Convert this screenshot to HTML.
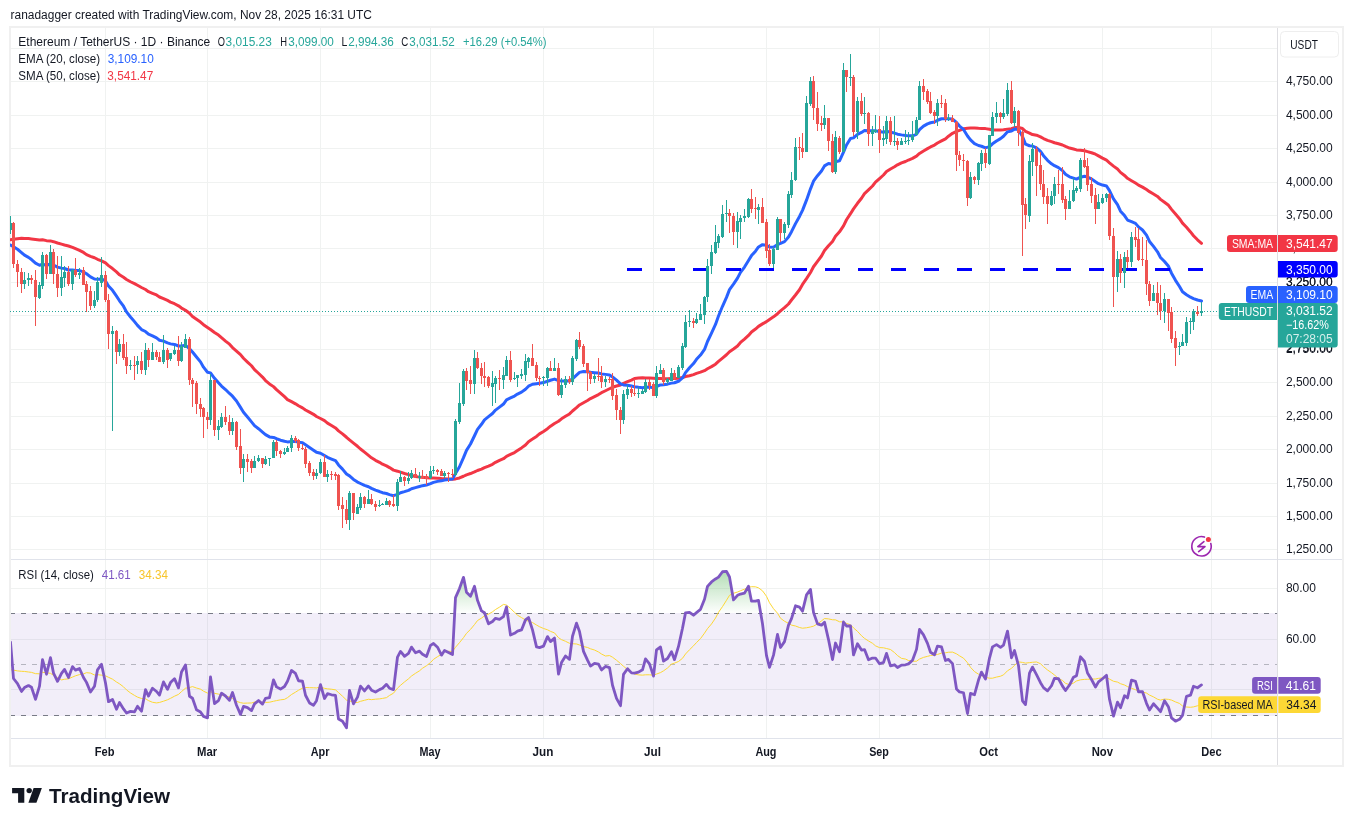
<!DOCTYPE html><html><head><meta charset="utf-8"><title>ETHUSDT</title><style>
html,body{margin:0;padding:0;background:#fff;width:1353px;height:826px;overflow:hidden}
svg{display:block;will-change:transform}svg text{font-family:"Liberation Sans", sans-serif}
</style></head><body>
<svg width="1353" height="826" viewBox="0 0 1353 826" shape-rendering="crispEdges">
<defs>
<clipPath id="cm"><rect x="10" y="28" width="1267" height="531"/></clipPath>
<clipPath id="cr"><rect x="11" y="560" width="1266" height="178"/></clipPath>
<linearGradient id="gob" x1="0" y1="537.7" x2="0" y2="613.9" gradientUnits="userSpaceOnUse"><stop offset="0" stop-color="#4caf50" stop-opacity="0.75"/><stop offset="1" stop-color="#4caf50" stop-opacity="0"/></linearGradient>
<linearGradient id="gos" x1="0" y1="715.5" x2="0" y2="791.7" gradientUnits="userSpaceOnUse"><stop offset="0" stop-color="#ff5252" stop-opacity="0"/><stop offset="1" stop-color="#ff5252" stop-opacity="0.75"/></linearGradient>
</defs>
<text x="10.6" y="18.6" font-size="12" fill="#131722" textLength="361.3" lengthAdjust="spacingAndGlyphs">ranadagger created with TradingView.com, Nov 28, 2025 16:31 UTC</text>
<rect x="9" y="26" width="1335" height="741" fill="#f0f0f0"/>
<rect x="11" y="28" width="1331" height="737" fill="#ffffff"/>
<g fill="#f0f2f1"><rect x="11" y="549" width="1266" height="1"/><rect x="11" y="516" width="1266" height="1"/><rect x="11" y="483" width="1266" height="1"/><rect x="11" y="449" width="1266" height="1"/><rect x="11" y="416" width="1266" height="1"/><rect x="11" y="382" width="1266" height="1"/><rect x="11" y="349" width="1266" height="1"/><rect x="11" y="315" width="1266" height="1"/><rect x="11" y="282" width="1266" height="1"/><rect x="11" y="248" width="1266" height="1"/><rect x="11" y="215" width="1266" height="1"/><rect x="11" y="182" width="1266" height="1"/><rect x="11" y="148" width="1266" height="1"/><rect x="11" y="115" width="1266" height="1"/><rect x="11" y="81" width="1266" height="1"/><rect x="11" y="48" width="1266" height="1"/><rect x="11" y="588" width="1266" height="1"/><rect x="11" y="639" width="1266" height="1"/><rect x="11" y="689" width="1266" height="1"/><rect x="105" y="28" width="1" height="710"/><rect x="207" y="28" width="1" height="710"/><rect x="320" y="28" width="1" height="710"/><rect x="430" y="28" width="1" height="710"/><rect x="543" y="28" width="1" height="710"/><rect x="653" y="28" width="1" height="710"/><rect x="766" y="28" width="1" height="710"/><rect x="879" y="28" width="1" height="710"/><rect x="989" y="28" width="1" height="710"/><rect x="1102" y="28" width="1" height="710"/><rect x="1211" y="28" width="1" height="710"/></g>
<rect x="11" y="559" width="1331" height="1" fill="#e0e3eb"/>
<rect x="11" y="738" width="1331" height="1" fill="#e0e3eb"/>
<rect x="1277" y="28" width="1" height="737" fill="#dedee2"/>
<g clip-path="url(#cm)">
<path d="M10 311h1M13 311h1M16 311h1M19 311h1M22 311h1M25 311h1M28 311h1M31 311h1M34 311h1M37 311h1M40 311h1M43 311h1M46 311h1M49 311h1M52 311h1M55 311h1M58 311h1M61 311h1M64 311h1M67 311h1M70 311h1M73 311h1M76 311h1M79 311h1M82 311h1M85 311h1M88 311h1M91 311h1M94 311h1M97 311h1M100 311h1M103 311h1M106 311h1M109 311h1M112 311h1M115 311h1M118 311h1M121 311h1M124 311h1M127 311h1M130 311h1M133 311h1M136 311h1M139 311h1M142 311h1M145 311h1M148 311h1M151 311h1M154 311h1M157 311h1M160 311h1M163 311h1M166 311h1M169 311h1M172 311h1M175 311h1M178 311h1M181 311h1M184 311h1M187 311h1M190 311h1M193 311h1M196 311h1M199 311h1M202 311h1M205 311h1M208 311h1M211 311h1M214 311h1M217 311h1M220 311h1M223 311h1M226 311h1M229 311h1M232 311h1M235 311h1M238 311h1M241 311h1M244 311h1M247 311h1M250 311h1M253 311h1M256 311h1M259 311h1M262 311h1M265 311h1M268 311h1M271 311h1M274 311h1M277 311h1M280 311h1M283 311h1M286 311h1M289 311h1M292 311h1M295 311h1M298 311h1M301 311h1M304 311h1M307 311h1M310 311h1M313 311h1M316 311h1M319 311h1M322 311h1M325 311h1M328 311h1M331 311h1M334 311h1M337 311h1M340 311h1M343 311h1M346 311h1M349 311h1M352 311h1M355 311h1M358 311h1M361 311h1M364 311h1M367 311h1M370 311h1M373 311h1M376 311h1M379 311h1M382 311h1M385 311h1M388 311h1M391 311h1M394 311h1M397 311h1M400 311h1M403 311h1M406 311h1M409 311h1M412 311h1M415 311h1M418 311h1M421 311h1M424 311h1M427 311h1M430 311h1M433 311h1M436 311h1M439 311h1M442 311h1M445 311h1M448 311h1M451 311h1M454 311h1M457 311h1M460 311h1M463 311h1M466 311h1M469 311h1M472 311h1M475 311h1M478 311h1M481 311h1M484 311h1M487 311h1M490 311h1M493 311h1M496 311h1M499 311h1M502 311h1M505 311h1M508 311h1M511 311h1M514 311h1M517 311h1M520 311h1M523 311h1M526 311h1M529 311h1M532 311h1M535 311h1M538 311h1M541 311h1M544 311h1M547 311h1M550 311h1M553 311h1M556 311h1M559 311h1M562 311h1M565 311h1M568 311h1M571 311h1M574 311h1M577 311h1M580 311h1M583 311h1M586 311h1M589 311h1M592 311h1M595 311h1M598 311h1M601 311h1M604 311h1M607 311h1M610 311h1M613 311h1M616 311h1M619 311h1M622 311h1M625 311h1M628 311h1M631 311h1M634 311h1M637 311h1M640 311h1M643 311h1M646 311h1M649 311h1M652 311h1M655 311h1M658 311h1M661 311h1M664 311h1M667 311h1M670 311h1M673 311h1M676 311h1M679 311h1M682 311h1M685 311h1M688 311h1M691 311h1M694 311h1M697 311h1M700 311h1M703 311h1M706 311h1M709 311h1M712 311h1M715 311h1M718 311h1M721 311h1M724 311h1M727 311h1M730 311h1M733 311h1M736 311h1M739 311h1M742 311h1M745 311h1M748 311h1M751 311h1M754 311h1M757 311h1M760 311h1M763 311h1M766 311h1M769 311h1M772 311h1M775 311h1M778 311h1M781 311h1M784 311h1M787 311h1M790 311h1M793 311h1M796 311h1M799 311h1M802 311h1M805 311h1M808 311h1M811 311h1M814 311h1M817 311h1M820 311h1M823 311h1M826 311h1M829 311h1M832 311h1M835 311h1M838 311h1M841 311h1M844 311h1M847 311h1M850 311h1M853 311h1M856 311h1M859 311h1M862 311h1M865 311h1M868 311h1M871 311h1M874 311h1M877 311h1M880 311h1M883 311h1M886 311h1M889 311h1M892 311h1M895 311h1M898 311h1M901 311h1M904 311h1M907 311h1M910 311h1M913 311h1M916 311h1M919 311h1M922 311h1M925 311h1M928 311h1M931 311h1M934 311h1M937 311h1M940 311h1M943 311h1M946 311h1M949 311h1M952 311h1M955 311h1M958 311h1M961 311h1M964 311h1M967 311h1M970 311h1M973 311h1M976 311h1M979 311h1M982 311h1M985 311h1M988 311h1M991 311h1M994 311h1M997 311h1M1000 311h1M1003 311h1M1006 311h1M1009 311h1M1012 311h1M1015 311h1M1018 311h1M1021 311h1M1024 311h1M1027 311h1M1030 311h1M1033 311h1M1036 311h1M1039 311h1M1042 311h1M1045 311h1M1048 311h1M1051 311h1M1054 311h1M1057 311h1M1060 311h1M1063 311h1M1066 311h1M1069 311h1M1072 311h1M1075 311h1M1078 311h1M1081 311h1M1084 311h1M1087 311h1M1090 311h1M1093 311h1M1096 311h1M1099 311h1M1102 311h1M1105 311h1M1108 311h1M1111 311h1M1114 311h1M1117 311h1M1120 311h1M1123 311h1M1126 311h1M1129 311h1M1132 311h1M1135 311h1M1138 311h1M1141 311h1M1144 311h1M1147 311h1M1150 311h1M1153 311h1M1156 311h1M1159 311h1M1162 311h1M1165 311h1M1168 311h1M1171 311h1M1174 311h1M1177 311h1M1180 311h1M1183 311h1M1186 311h1M1189 311h1M1192 311h1M1195 311h1M1198 311h1M1201 311h1M1204 311h1M1207 311h1M1210 311h1M1213 311h1M1216 311h1M1219 311h1M1222 311h1M1225 311h1M1228 311h1M1231 311h1M1234 311h1M1237 311h1M1240 311h1M1243 311h1M1246 311h1M1249 311h1M1252 311h1M1255 311h1M1258 311h1M1261 311h1M1264 311h1M1267 311h1M1270 311h1M1273 311h1M1276 311h1" stroke="#26a69a" stroke-width="1" transform="translate(0,0.5)"/>
<polyline points="10.5,239.72 13.5,239.26 17.5,238.68 21.5,238.23 24.5,238.47 28.5,238.59 31.5,238.94 35.5,239.54 39.5,240.05 42.5,239.71 46.5,240.64 50.5,240.92 53.5,241.68 57.5,243.00 61.5,244.12 64.5,244.96 68.5,245.97 72.5,247.31 75.5,248.59 79.5,250.40 83.5,252.45 86.5,254.65 90.5,256.36 94.5,257.72 97.5,259.28 101.5,260.83 105.5,262.95 108.5,265.64 112.5,268.53 116.5,271.89 119.5,274.81 123.5,277.33 126.5,279.47 130.5,281.73 134.5,283.63 137.5,285.31 141.5,287.51 145.5,289.51 148.5,291.66 152.5,293.28 156.5,294.99 159.5,296.99 163.5,298.61 167.5,300.44 170.5,302.08 174.5,303.72 178.5,305.82 181.5,308.07 185.5,310.29 189.5,313.28 192.5,316.49 196.5,319.28 200.5,322.01 203.5,324.68 207.5,327.48 210.5,329.51 214.5,332.50 218.5,335.07 221.5,337.71 225.5,341.06 229.5,344.18 232.5,347.59 236.5,351.03 240.5,354.63 243.5,358.27 247.5,362.06 251.5,365.74 254.5,369.57 258.5,373.24 262.5,377.07 265.5,380.56 269.5,383.90 273.5,386.62 276.5,389.65 280.5,393.09 284.5,396.63 287.5,399.57 291.5,401.65 295.5,403.84 298.5,405.78 302.5,407.86 305.5,409.98 309.5,412.12 313.5,414.34 316.5,416.48 320.5,418.50 324.5,420.66 327.5,423.14 331.5,425.45 335.5,427.92 338.5,430.90 342.5,433.85 346.5,437.26 349.5,439.94 353.5,443.13 357.5,446.27 360.5,449.00 364.5,452.15 368.5,455.36 371.5,457.84 375.5,460.30 379.5,462.32 382.5,464.22 386.5,465.90 389.5,467.59 393.5,470.12 397.5,471.18 400.5,472.20 404.5,473.48 408.5,474.60 411.5,475.45 415.5,476.55 419.5,477.13 422.5,477.32 426.5,477.71 430.5,477.91 433.5,477.95 437.5,478.16 441.5,478.51 444.5,478.69 448.5,478.98 452.5,479.31 455.5,478.89 459.5,477.92 463.5,476.25 466.5,474.83 470.5,473.55 474.5,471.95 477.5,470.49 481.5,469.05 484.5,467.63 488.5,466.09 492.5,464.29 495.5,462.33 499.5,460.44 503.5,458.70 506.5,456.35 510.5,454.48 514.5,452.53 517.5,450.52 521.5,447.88 525.5,444.92 528.5,441.66 532.5,439.11 536.5,436.42 539.5,433.84 543.5,431.44 547.5,428.73 550.5,426.17 554.5,423.44 558.5,421.21 561.5,418.82 565.5,416.33 569.5,413.94 572.5,411.00 576.5,407.68 579.5,404.97 583.5,402.70 587.5,400.53 590.5,398.54 594.5,396.59 598.5,394.58 601.5,392.71 605.5,390.74 609.5,388.76 612.5,387.25 616.5,386.06 620.5,385.02 623.5,383.40 627.5,381.72 631.5,380.11 634.5,378.48 638.5,377.92 642.5,377.68 645.5,377.90 649.5,378.01 653.5,378.25 656.5,378.56 660.5,378.61 663.5,378.71 667.5,378.75 671.5,378.48 674.5,378.41 678.5,378.20 682.5,377.55 685.5,376.49 689.5,375.72 693.5,374.58 696.5,373.41 700.5,372.19 704.5,370.65 707.5,368.74 711.5,366.63 715.5,364.16 718.5,361.32 722.5,358.04 726.5,354.75 729.5,351.72 733.5,348.93 737.5,345.99 740.5,342.45 744.5,339.07 748.5,335.46 751.5,332.00 755.5,329.01 758.5,326.36 762.5,323.88 766.5,321.62 769.5,319.44 773.5,316.85 777.5,313.71 780.5,310.85 784.5,307.69 788.5,304.00 791.5,300.00 795.5,295.03 799.5,289.78 802.5,284.43 806.5,278.61 810.5,272.46 813.5,266.76 817.5,261.37 821.5,256.02 824.5,250.57 828.5,245.74 832.5,241.45 835.5,236.28 839.5,231.85 843.5,225.85 846.5,219.76 850.5,213.70 853.5,208.87 857.5,203.30 861.5,198.24 864.5,193.57 868.5,189.80 872.5,185.97 875.5,182.11 879.5,178.53 883.5,175.00 886.5,171.49 890.5,169.02 894.5,166.79 897.5,164.84 901.5,162.95 905.5,161.48 908.5,160.02 912.5,158.40 916.5,156.17 919.5,153.47 923.5,150.95 927.5,148.67 930.5,146.95 934.5,145.08 937.5,142.97 941.5,140.90 945.5,138.83 948.5,136.17 952.5,133.34 956.5,131.47 959.5,130.29 963.5,128.85 967.5,128.33 970.5,127.99 974.5,127.98 978.5,128.30 981.5,128.39 985.5,128.61 989.5,129.24 992.5,129.96 996.5,130.05 1000.5,129.91 1003.5,129.67 1007.5,129.12 1011.5,128.76 1014.5,127.55 1018.5,127.46 1022.5,128.52 1025.5,131.42 1029.5,133.10 1032.5,134.54 1036.5,135.23 1040.5,136.90 1043.5,138.55 1047.5,140.38 1051.5,141.63 1054.5,142.72 1058.5,143.82 1062.5,145.01 1065.5,146.42 1069.5,148.02 1073.5,148.98 1076.5,149.93 1080.5,150.22 1084.5,150.73 1087.5,151.61 1091.5,152.73 1095.5,154.20 1098.5,155.85 1102.5,158.09 1106.5,160.13 1109.5,162.81 1113.5,166.10 1117.5,168.97 1120.5,172.38 1124.5,175.44 1127.5,178.31 1131.5,180.69 1135.5,183.04 1138.5,185.13 1142.5,187.13 1146.5,189.59 1149.5,191.64 1153.5,193.96 1157.5,196.43 1160.5,199.40 1164.5,202.32 1168.5,205.31 1171.5,209.39 1175.5,214.00 1179.5,218.65 1182.5,223.15 1186.5,227.33 1190.5,231.94 1193.5,235.71 1197.5,239.76 1201.5,243.32" fill="none" stroke="#f23645" stroke-width="3" stroke-linejoin="round" stroke-linecap="round" shape-rendering="auto"/>
<polyline points="10.5,244.99 13.5,246.85 17.5,249.25 21.5,252.56 24.5,255.17 28.5,257.34 31.5,259.53 35.5,263.13 39.5,265.23 42.5,264.25 46.5,265.23 50.5,263.97 53.5,264.97 57.5,267.16 61.5,268.12 64.5,268.49 68.5,269.97 72.5,269.95 75.5,270.40 79.5,270.61 83.5,271.94 86.5,273.80 90.5,276.86 94.5,279.05 97.5,279.32 101.5,278.93 105.5,280.99 108.5,286.02 112.5,290.35 116.5,296.19 119.5,300.78 123.5,306.19 126.5,311.93 130.5,316.97 134.5,321.62 137.5,325.37 141.5,329.57 145.5,331.52 148.5,334.20 152.5,335.92 156.5,337.91 159.5,340.19 163.5,341.13 167.5,342.88 170.5,343.88 174.5,344.44 178.5,345.99 181.5,346.00 185.5,345.32 189.5,348.66 192.5,351.97 196.5,356.95 200.5,361.87 203.5,367.15 207.5,372.20 210.5,372.89 214.5,378.30 218.5,382.84 221.5,386.09 225.5,389.55 229.5,393.48 232.5,396.20 236.5,401.02 240.5,407.39 243.5,412.32 247.5,417.01 251.5,421.86 254.5,425.61 258.5,428.71 262.5,432.09 265.5,434.66 269.5,436.92 273.5,437.42 276.5,438.74 280.5,440.20 284.5,441.31 287.5,441.90 291.5,441.54 295.5,441.49 298.5,442.14 302.5,442.77 305.5,444.76 309.5,447.45 313.5,450.16 316.5,452.33 320.5,453.26 324.5,455.56 327.5,457.32 331.5,459.02 335.5,460.63 338.5,464.92 342.5,469.15 346.5,474.04 349.5,475.87 353.5,479.40 357.5,482.04 360.5,483.48 364.5,485.40 368.5,486.72 371.5,488.40 375.5,490.14 379.5,491.53 382.5,492.71 386.5,493.52 389.5,494.59 393.5,495.68 397.5,494.42 400.5,492.79 404.5,491.65 408.5,490.40 411.5,488.77 415.5,487.64 419.5,486.50 422.5,485.65 426.5,484.99 430.5,483.69 433.5,482.39 437.5,481.38 441.5,480.84 444.5,480.09 448.5,479.50 452.5,479.05 455.5,473.52 459.5,466.77 463.5,457.64 466.5,450.33 470.5,443.98 474.5,435.77 477.5,429.33 481.5,424.29 484.5,419.86 488.5,416.68 492.5,413.46 495.5,410.08 499.5,407.09 503.5,404.03 506.5,399.84 510.5,397.97 514.5,396.06 517.5,394.09 521.5,392.15 525.5,389.20 528.5,386.21 532.5,384.26 536.5,383.67 539.5,383.17 543.5,382.60 547.5,381.21 550.5,380.25 554.5,379.09 558.5,380.62 561.5,381.06 565.5,380.88 569.5,380.98 572.5,378.79 576.5,375.09 579.5,372.38 583.5,371.57 587.5,371.67 590.5,372.33 594.5,372.67 598.5,373.04 601.5,373.89 605.5,374.38 609.5,374.90 612.5,376.90 616.5,380.10 620.5,383.89 623.5,384.90 627.5,385.29 631.5,386.05 634.5,386.76 638.5,387.33 642.5,387.67 645.5,387.14 649.5,387.03 653.5,387.88 656.5,386.50 660.5,384.95 663.5,384.65 667.5,384.15 671.5,383.12 674.5,382.76 678.5,381.28 682.5,377.93 685.5,372.63 689.5,367.74 693.5,363.51 696.5,359.30 700.5,355.02 704.5,349.46 707.5,341.51 711.5,333.02 715.5,324.38 718.5,315.95 722.5,306.29 726.5,297.38 729.5,289.65 733.5,284.14 737.5,278.14 740.5,272.42 744.5,267.05 748.5,260.54 751.5,255.61 755.5,251.15 758.5,246.97 762.5,244.67 766.5,245.26 769.5,247.01 773.5,247.21 777.5,244.52 780.5,243.45 784.5,241.62 788.5,237.10 791.5,231.69 795.5,223.62 799.5,216.45 802.5,210.36 806.5,200.17 810.5,188.86 813.5,181.21 817.5,175.73 821.5,170.94 824.5,165.91 828.5,163.51 832.5,164.29 835.5,161.72 839.5,160.78 843.5,152.15 846.5,145.02 850.5,138.52 853.5,137.85 857.5,134.32 861.5,132.41 864.5,130.55 868.5,130.86 872.5,130.77 875.5,130.68 879.5,131.60 883.5,132.22 886.5,131.17 890.5,132.24 894.5,133.04 897.5,134.19 901.5,134.88 905.5,135.46 908.5,135.87 912.5,135.79 916.5,134.30 919.5,129.71 923.5,126.14 927.5,123.84 930.5,122.77 934.5,122.08 937.5,120.27 941.5,118.73 945.5,118.76 948.5,118.67 952.5,119.03 956.5,122.49 959.5,126.06 963.5,129.42 967.5,135.99 970.5,139.90 974.5,143.68 978.5,145.51 981.5,146.24 985.5,147.85 989.5,146.64 992.5,143.83 996.5,140.94 1000.5,138.63 1003.5,136.23 1007.5,131.85 1011.5,131.00 1014.5,129.11 1018.5,129.45 1022.5,136.63 1025.5,144.13 1029.5,145.76 1032.5,146.05 1036.5,147.92 1040.5,151.40 1043.5,155.71 1047.5,160.35 1051.5,163.78 1054.5,165.72 1058.5,167.57 1062.5,170.62 1065.5,174.25 1069.5,176.81 1073.5,178.10 1076.5,179.06 1080.5,177.24 1084.5,176.26 1087.5,177.07 1091.5,178.85 1095.5,181.70 1098.5,183.66 1102.5,185.07 1106.5,185.94 1109.5,190.67 1113.5,198.92 1117.5,204.66 1120.5,211.19 1124.5,215.59 1127.5,220.03 1131.5,221.67 1135.5,223.37 1138.5,226.86 1142.5,230.01 1146.5,235.20 1149.5,241.43 1153.5,246.36 1157.5,251.77 1160.5,257.45 1164.5,261.44 1168.5,266.32 1171.5,273.22 1175.5,280.32 1179.5,286.55 1182.5,291.83 1186.5,294.73 1190.5,297.23 1193.5,298.58 1197.5,300.01 1201.5,301.04" fill="none" stroke="#2962ff" stroke-width="3" stroke-linejoin="round" stroke-linecap="round" shape-rendering="auto"/>
<g fill="#0000ff"><rect x="627" y="268" width="15" height="3"/><rect x="660" y="268" width="15" height="3"/><rect x="693" y="268" width="15" height="3"/><rect x="726" y="268" width="15" height="3"/><rect x="759" y="268" width="15" height="3"/><rect x="792" y="268" width="15" height="3"/><rect x="825" y="268" width="15" height="3"/><rect x="858" y="268" width="15" height="3"/><rect x="891" y="268" width="15" height="3"/><rect x="924" y="268" width="15" height="3"/><rect x="957" y="268" width="15" height="3"/><rect x="990" y="268" width="15" height="3"/><rect x="1023" y="268" width="15" height="3"/><rect x="1056" y="268" width="15" height="3"/><rect x="1089" y="268" width="15" height="3"/><rect x="1122" y="268" width="15" height="3"/><rect x="1155" y="268" width="15" height="3"/><rect x="1188" y="268" width="15" height="3"/></g>
<g fill="#26a69a"><rect x="10" y="216" width="1" height="7"/><rect x="9" y="223" width="3" height="7"/><rect x="10" y="230" width="1" height="4"/><rect x="24" y="272" width="1" height="8"/><rect x="23" y="280" width="3" height="4"/><rect x="24" y="284" width="1" height="5"/><rect x="28" y="273" width="1" height="5"/><rect x="27" y="278" width="3" height="2"/><rect x="28" y="280" width="1" height="6"/><rect x="39" y="282" width="1" height="3"/><rect x="38" y="285" width="3" height="13"/><rect x="39" y="298" width="1" height="1"/><rect x="42" y="252" width="1" height="3"/><rect x="41" y="255" width="3" height="31"/><rect x="42" y="286" width="1" height="3"/><rect x="50" y="245" width="1" height="7"/><rect x="49" y="252" width="3" height="22"/><rect x="61" y="256" width="1" height="21"/><rect x="60" y="277" width="3" height="11"/><rect x="61" y="288" width="1" height="8"/><rect x="64" y="266" width="1" height="6"/><rect x="63" y="272" width="3" height="6"/><rect x="64" y="278" width="1" height="9"/><rect x="72" y="269" width="1" height="1"/><rect x="71" y="270" width="3" height="14"/><rect x="72" y="284" width="1" height="6"/><rect x="79" y="268" width="1" height="5"/><rect x="78" y="273" width="3" height="2"/><rect x="79" y="275" width="1" height="4"/><rect x="94" y="291" width="1" height="9"/><rect x="93" y="300" width="3" height="6"/><rect x="94" y="306" width="1" height="2"/><rect x="97" y="277" width="1" height="5"/><rect x="96" y="282" width="3" height="18"/><rect x="97" y="300" width="1" height="2"/><rect x="101" y="257" width="1" height="18"/><rect x="100" y="275" width="3" height="8"/><rect x="101" y="283" width="1" height="4"/><rect x="112" y="326" width="1" height="5"/><rect x="111" y="331" width="3" height="3"/><rect x="112" y="334" width="1" height="97"/><rect x="119" y="339" width="1" height="5"/><rect x="118" y="344" width="3" height="8"/><rect x="119" y="352" width="1" height="4"/><rect x="130" y="360" width="1" height="5"/><rect x="129" y="365" width="3" height="1"/><rect x="130" y="366" width="1" height="4"/><rect x="137" y="356" width="1" height="5"/><rect x="136" y="361" width="3" height="4"/><rect x="137" y="365" width="1" height="9"/><rect x="145" y="343" width="1" height="7"/><rect x="144" y="350" width="3" height="20"/><rect x="145" y="370" width="1" height="5"/><rect x="152" y="343" width="1" height="9"/><rect x="151" y="352" width="3" height="8"/><rect x="163" y="335" width="1" height="15"/><rect x="162" y="350" width="3" height="12"/><rect x="163" y="362" width="1" height="2"/><rect x="169" y="353" width="3" height="6"/><rect x="170" y="359" width="1" height="2"/><rect x="174" y="346" width="1" height="4"/><rect x="173" y="350" width="3" height="4"/><rect x="174" y="354" width="1" height="1"/><rect x="181" y="342" width="1" height="4"/><rect x="180" y="346" width="3" height="15"/><rect x="181" y="361" width="1" height="1"/><rect x="185" y="334" width="1" height="5"/><rect x="184" y="339" width="3" height="9"/><rect x="210" y="374" width="1" height="6"/><rect x="209" y="380" width="3" height="40"/><rect x="210" y="420" width="1" height="5"/><rect x="218" y="420" width="1" height="6"/><rect x="217" y="426" width="3" height="4"/><rect x="218" y="430" width="1" height="10"/><rect x="221" y="413" width="1" height="4"/><rect x="220" y="417" width="3" height="10"/><rect x="221" y="427" width="1" height="1"/><rect x="232" y="418" width="1" height="4"/><rect x="231" y="422" width="3" height="9"/><rect x="232" y="431" width="1" height="4"/><rect x="243" y="454" width="1" height="5"/><rect x="242" y="459" width="3" height="9"/><rect x="243" y="468" width="1" height="14"/><rect x="254" y="456" width="1" height="5"/><rect x="253" y="461" width="3" height="7"/><rect x="258" y="455" width="1" height="3"/><rect x="257" y="458" width="3" height="3"/><rect x="258" y="461" width="1" height="1"/><rect x="265" y="456" width="1" height="3"/><rect x="264" y="459" width="3" height="5"/><rect x="265" y="464" width="1" height="1"/><rect x="268" y="458" width="3" height="1"/><rect x="269" y="459" width="1" height="7"/><rect x="273" y="440" width="1" height="2"/><rect x="272" y="442" width="3" height="16"/><rect x="284" y="448" width="1" height="4"/><rect x="283" y="452" width="3" height="2"/><rect x="284" y="454" width="1" height="1"/><rect x="287" y="446" width="1" height="2"/><rect x="286" y="448" width="3" height="4"/><rect x="291" y="435" width="1" height="3"/><rect x="290" y="438" width="3" height="10"/><rect x="291" y="448" width="1" height="4"/><rect x="316" y="469" width="1" height="4"/><rect x="315" y="473" width="3" height="3"/><rect x="316" y="476" width="1" height="3"/><rect x="320" y="459" width="1" height="3"/><rect x="319" y="462" width="3" height="11"/><rect x="320" y="473" width="1" height="1"/><rect x="327" y="470" width="1" height="4"/><rect x="326" y="474" width="3" height="3"/><rect x="327" y="477" width="1" height="5"/><rect x="349" y="491" width="1" height="2"/><rect x="348" y="493" width="3" height="27"/><rect x="349" y="520" width="1" height="10"/><rect x="357" y="504" width="1" height="3"/><rect x="356" y="507" width="3" height="7"/><rect x="360" y="493" width="1" height="4"/><rect x="359" y="497" width="3" height="11"/><rect x="360" y="508" width="1" height="2"/><rect x="368" y="490" width="1" height="9"/><rect x="367" y="499" width="3" height="5"/><rect x="379" y="500" width="1" height="5"/><rect x="378" y="505" width="3" height="1"/><rect x="379" y="506" width="1" height="1"/><rect x="382" y="503" width="1" height="1"/><rect x="381" y="504" width="3" height="1"/><rect x="386" y="498" width="1" height="3"/><rect x="385" y="501" width="3" height="4"/><rect x="397" y="479" width="1" height="3"/><rect x="396" y="482" width="3" height="24"/><rect x="397" y="506" width="1" height="5"/><rect x="400" y="471" width="1" height="6"/><rect x="399" y="477" width="3" height="5"/><rect x="408" y="472" width="1" height="6"/><rect x="407" y="478" width="3" height="3"/><rect x="408" y="481" width="1" height="3"/><rect x="411" y="470" width="1" height="3"/><rect x="410" y="473" width="3" height="5"/><rect x="411" y="478" width="1" height="1"/><rect x="419" y="472" width="1" height="4"/><rect x="418" y="476" width="3" height="2"/><rect x="419" y="478" width="1" height="4"/><rect x="430" y="466" width="1" height="5"/><rect x="429" y="471" width="3" height="7"/><rect x="430" y="478" width="1" height="1"/><rect x="433" y="466" width="1" height="4"/><rect x="432" y="470" width="3" height="1"/><rect x="433" y="471" width="1" height="3"/><rect x="444" y="471" width="1" height="2"/><rect x="443" y="473" width="3" height="3"/><rect x="444" y="476" width="1" height="2"/><rect x="455" y="419" width="1" height="2"/><rect x="454" y="421" width="3" height="54"/><rect x="455" y="475" width="1" height="1"/><rect x="459" y="383" width="1" height="20"/><rect x="458" y="403" width="3" height="19"/><rect x="459" y="422" width="1" height="2"/><rect x="463" y="369" width="1" height="2"/><rect x="462" y="371" width="3" height="33"/><rect x="463" y="404" width="1" height="2"/><rect x="474" y="350" width="1" height="8"/><rect x="473" y="358" width="3" height="26"/><rect x="474" y="384" width="1" height="10"/><rect x="492" y="371" width="1" height="12"/><rect x="491" y="383" width="3" height="4"/><rect x="492" y="387" width="1" height="19"/><rect x="495" y="376" width="1" height="2"/><rect x="494" y="378" width="3" height="6"/><rect x="495" y="384" width="1" height="19"/><rect x="503" y="367" width="1" height="8"/><rect x="502" y="375" width="3" height="5"/><rect x="503" y="380" width="1" height="9"/><rect x="506" y="356" width="1" height="4"/><rect x="505" y="360" width="3" height="16"/><rect x="514" y="372" width="1" height="6"/><rect x="513" y="378" width="3" height="1"/><rect x="514" y="379" width="1" height="1"/><rect x="516" y="375" width="3" height="3"/><rect x="517" y="378" width="1" height="9"/><rect x="521" y="369" width="1" height="5"/><rect x="520" y="374" width="3" height="2"/><rect x="521" y="376" width="1" height="3"/><rect x="525" y="354" width="1" height="7"/><rect x="524" y="361" width="3" height="14"/><rect x="525" y="375" width="1" height="6"/><rect x="528" y="357" width="1" height="1"/><rect x="527" y="358" width="3" height="4"/><rect x="528" y="362" width="1" height="6"/><rect x="543" y="376" width="1" height="1"/><rect x="542" y="377" width="3" height="1"/><rect x="543" y="378" width="1" height="8"/><rect x="547" y="367" width="1" height="1"/><rect x="546" y="368" width="3" height="10"/><rect x="547" y="378" width="1" height="8"/><rect x="554" y="358" width="1" height="10"/><rect x="553" y="368" width="3" height="3"/><rect x="561" y="378" width="1" height="7"/><rect x="560" y="385" width="3" height="10"/><rect x="561" y="395" width="1" height="3"/><rect x="565" y="376" width="1" height="3"/><rect x="564" y="379" width="3" height="6"/><rect x="565" y="385" width="1" height="3"/><rect x="572" y="356" width="1" height="2"/><rect x="571" y="358" width="3" height="24"/><rect x="572" y="382" width="1" height="3"/><rect x="576" y="339" width="1" height="1"/><rect x="575" y="340" width="3" height="19"/><rect x="576" y="359" width="1" height="2"/><rect x="594" y="374" width="1" height="2"/><rect x="593" y="376" width="3" height="3"/><rect x="594" y="379" width="1" height="4"/><rect x="605" y="376" width="1" height="3"/><rect x="604" y="379" width="3" height="3"/><rect x="605" y="382" width="1" height="5"/><rect x="623" y="390" width="1" height="4"/><rect x="622" y="394" width="3" height="26"/><rect x="623" y="420" width="1" height="4"/><rect x="627" y="385" width="1" height="4"/><rect x="626" y="389" width="3" height="6"/><rect x="627" y="395" width="1" height="4"/><rect x="638" y="387" width="1" height="6"/><rect x="637" y="393" width="3" height="1"/><rect x="638" y="394" width="1" height="4"/><rect x="642" y="389" width="1" height="2"/><rect x="641" y="391" width="3" height="3"/><rect x="645" y="379" width="1" height="3"/><rect x="644" y="382" width="3" height="10"/><rect x="645" y="392" width="1" height="1"/><rect x="656" y="366" width="1" height="7"/><rect x="655" y="373" width="3" height="23"/><rect x="656" y="396" width="1" height="2"/><rect x="660" y="364" width="1" height="6"/><rect x="659" y="370" width="3" height="4"/><rect x="667" y="378" width="1" height="1"/><rect x="666" y="379" width="3" height="3"/><rect x="667" y="382" width="1" height="2"/><rect x="671" y="368" width="1" height="5"/><rect x="670" y="373" width="3" height="8"/><rect x="678" y="365" width="1" height="2"/><rect x="677" y="367" width="3" height="11"/><rect x="682" y="343" width="1" height="3"/><rect x="681" y="346" width="3" height="22"/><rect x="682" y="368" width="1" height="2"/><rect x="685" y="315" width="1" height="7"/><rect x="684" y="322" width="3" height="25"/><rect x="685" y="347" width="1" height="1"/><rect x="689" y="310" width="1" height="11"/><rect x="688" y="321" width="3" height="1"/><rect x="689" y="322" width="1" height="5"/><rect x="696" y="313" width="1" height="6"/><rect x="695" y="319" width="3" height="4"/><rect x="696" y="323" width="1" height="1"/><rect x="700" y="304" width="1" height="10"/><rect x="699" y="314" width="3" height="6"/><rect x="704" y="296" width="1" height="1"/><rect x="703" y="297" width="3" height="18"/><rect x="704" y="315" width="1" height="9"/><rect x="707" y="259" width="1" height="7"/><rect x="706" y="266" width="3" height="31"/><rect x="707" y="297" width="1" height="5"/><rect x="711" y="245" width="1" height="7"/><rect x="710" y="252" width="3" height="14"/><rect x="711" y="266" width="1" height="8"/><rect x="715" y="225" width="1" height="17"/><rect x="714" y="242" width="3" height="11"/><rect x="715" y="253" width="1" height="1"/><rect x="718" y="234" width="1" height="2"/><rect x="717" y="236" width="3" height="7"/><rect x="718" y="243" width="1" height="5"/><rect x="722" y="205" width="1" height="9"/><rect x="721" y="214" width="3" height="23"/><rect x="722" y="237" width="1" height="1"/><rect x="726" y="200" width="1" height="13"/><rect x="725" y="213" width="3" height="1"/><rect x="726" y="214" width="1" height="8"/><rect x="737" y="212" width="1" height="9"/><rect x="736" y="221" width="3" height="11"/><rect x="737" y="232" width="1" height="16"/><rect x="740" y="215" width="1" height="3"/><rect x="739" y="218" width="3" height="4"/><rect x="740" y="222" width="1" height="17"/><rect x="744" y="209" width="1" height="7"/><rect x="743" y="216" width="3" height="2"/><rect x="744" y="218" width="1" height="4"/><rect x="748" y="198" width="1" height="1"/><rect x="747" y="199" width="3" height="18"/><rect x="748" y="217" width="1" height="1"/><rect x="758" y="204" width="1" height="3"/><rect x="757" y="207" width="3" height="3"/><rect x="758" y="210" width="1" height="14"/><rect x="773" y="247" width="1" height="2"/><rect x="772" y="249" width="3" height="15"/><rect x="773" y="264" width="1" height="4"/><rect x="777" y="217" width="1" height="2"/><rect x="776" y="219" width="3" height="31"/><rect x="784" y="222" width="1" height="2"/><rect x="783" y="224" width="3" height="9"/><rect x="784" y="233" width="1" height="6"/><rect x="788" y="191" width="1" height="3"/><rect x="787" y="194" width="3" height="31"/><rect x="788" y="225" width="1" height="3"/><rect x="791" y="172" width="1" height="8"/><rect x="790" y="180" width="3" height="15"/><rect x="791" y="195" width="1" height="3"/><rect x="795" y="138" width="1" height="9"/><rect x="794" y="147" width="3" height="33"/><rect x="795" y="180" width="1" height="1"/><rect x="806" y="96" width="1" height="7"/><rect x="805" y="103" width="3" height="49"/><rect x="810" y="77" width="1" height="4"/><rect x="809" y="81" width="3" height="23"/><rect x="810" y="104" width="1" height="2"/><rect x="824" y="105" width="1" height="13"/><rect x="823" y="118" width="3" height="7"/><rect x="824" y="125" width="1" height="4"/><rect x="835" y="131" width="1" height="6"/><rect x="834" y="137" width="3" height="35"/><rect x="835" y="172" width="1" height="2"/><rect x="843" y="63" width="1" height="7"/><rect x="842" y="70" width="3" height="82"/><rect x="850" y="54" width="1" height="23"/><rect x="849" y="77" width="3" height="1"/><rect x="850" y="78" width="1" height="8"/><rect x="857" y="97" width="1" height="4"/><rect x="856" y="101" width="3" height="31"/><rect x="857" y="132" width="1" height="7"/><rect x="864" y="97" width="1" height="16"/><rect x="863" y="113" width="3" height="1"/><rect x="864" y="114" width="1" height="10"/><rect x="872" y="126" width="1" height="4"/><rect x="871" y="130" width="3" height="4"/><rect x="872" y="134" width="1" height="12"/><rect x="875" y="115" width="1" height="15"/><rect x="874" y="130" width="3" height="2"/><rect x="875" y="132" width="1" height="1"/><rect x="883" y="126" width="1" height="12"/><rect x="882" y="138" width="3" height="2"/><rect x="883" y="140" width="1" height="6"/><rect x="886" y="116" width="1" height="5"/><rect x="885" y="121" width="3" height="18"/><rect x="886" y="139" width="1" height="5"/><rect x="894" y="116" width="1" height="25"/><rect x="893" y="141" width="3" height="1"/><rect x="894" y="142" width="1" height="4"/><rect x="901" y="138" width="1" height="3"/><rect x="900" y="141" width="3" height="4"/><rect x="905" y="130" width="1" height="11"/><rect x="904" y="141" width="3" height="1"/><rect x="905" y="142" width="1" height="2"/><rect x="908" y="132" width="1" height="8"/><rect x="907" y="140" width="3" height="1"/><rect x="908" y="141" width="1" height="4"/><rect x="912" y="121" width="1" height="14"/><rect x="911" y="135" width="3" height="5"/><rect x="912" y="140" width="1" height="2"/><rect x="916" y="117" width="1" height="3"/><rect x="915" y="120" width="3" height="15"/><rect x="919" y="81" width="1" height="5"/><rect x="918" y="86" width="3" height="34"/><rect x="937" y="99" width="1" height="4"/><rect x="936" y="103" width="3" height="13"/><rect x="937" y="116" width="1" height="10"/><rect x="948" y="114" width="1" height="4"/><rect x="947" y="118" width="3" height="1"/><rect x="948" y="119" width="1" height="2"/><rect x="970" y="172" width="1" height="5"/><rect x="969" y="177" width="3" height="21"/><rect x="970" y="198" width="1" height="1"/><rect x="978" y="162" width="1" height="1"/><rect x="977" y="163" width="3" height="17"/><rect x="978" y="180" width="1" height="5"/><rect x="981" y="150" width="1" height="3"/><rect x="980" y="153" width="3" height="11"/><rect x="981" y="164" width="1" height="7"/><rect x="988" y="135" width="3" height="29"/><rect x="989" y="164" width="1" height="1"/><rect x="992" y="112" width="1" height="5"/><rect x="991" y="117" width="3" height="19"/><rect x="996" y="102" width="1" height="11"/><rect x="995" y="113" width="3" height="4"/><rect x="996" y="117" width="1" height="6"/><rect x="1003" y="99" width="1" height="14"/><rect x="1002" y="113" width="3" height="4"/><rect x="1003" y="117" width="1" height="2"/><rect x="1007" y="83" width="1" height="7"/><rect x="1006" y="90" width="3" height="24"/><rect x="1007" y="114" width="1" height="2"/><rect x="1014" y="107" width="1" height="4"/><rect x="1013" y="111" width="3" height="12"/><rect x="1014" y="123" width="1" height="4"/><rect x="1029" y="155" width="1" height="6"/><rect x="1028" y="161" width="3" height="55"/><rect x="1029" y="216" width="1" height="6"/><rect x="1032" y="143" width="1" height="6"/><rect x="1031" y="149" width="3" height="13"/><rect x="1032" y="162" width="1" height="14"/><rect x="1051" y="191" width="1" height="5"/><rect x="1050" y="196" width="3" height="9"/><rect x="1051" y="205" width="1" height="1"/><rect x="1054" y="177" width="1" height="7"/><rect x="1053" y="184" width="3" height="12"/><rect x="1054" y="196" width="1" height="8"/><rect x="1069" y="190" width="1" height="11"/><rect x="1068" y="201" width="3" height="8"/><rect x="1073" y="178" width="1" height="12"/><rect x="1072" y="190" width="3" height="11"/><rect x="1073" y="201" width="1" height="1"/><rect x="1076" y="186" width="1" height="2"/><rect x="1075" y="188" width="3" height="3"/><rect x="1076" y="191" width="1" height="2"/><rect x="1080" y="158" width="1" height="2"/><rect x="1079" y="160" width="3" height="29"/><rect x="1080" y="189" width="1" height="3"/><rect x="1098" y="194" width="1" height="8"/><rect x="1097" y="202" width="3" height="7"/><rect x="1102" y="194" width="1" height="4"/><rect x="1101" y="198" width="3" height="5"/><rect x="1102" y="203" width="1" height="1"/><rect x="1106" y="193" width="1" height="1"/><rect x="1105" y="194" width="3" height="4"/><rect x="1106" y="198" width="1" height="4"/><rect x="1117" y="251" width="1" height="8"/><rect x="1116" y="259" width="3" height="18"/><rect x="1117" y="277" width="1" height="15"/><rect x="1124" y="252" width="1" height="5"/><rect x="1123" y="257" width="3" height="16"/><rect x="1124" y="273" width="1" height="15"/><rect x="1131" y="232" width="1" height="5"/><rect x="1130" y="237" width="3" height="25"/><rect x="1131" y="262" width="1" height="5"/><rect x="1153" y="285" width="1" height="8"/><rect x="1152" y="293" width="3" height="8"/><rect x="1164" y="293" width="1" height="6"/><rect x="1163" y="299" width="3" height="12"/><rect x="1164" y="311" width="1" height="12"/><rect x="1179" y="342" width="1" height="4"/><rect x="1178" y="346" width="3" height="1"/><rect x="1179" y="347" width="1" height="8"/><rect x="1182" y="334" width="1" height="8"/><rect x="1181" y="342" width="3" height="4"/><rect x="1186" y="317" width="1" height="5"/><rect x="1185" y="322" width="3" height="21"/><rect x="1186" y="343" width="1" height="3"/><rect x="1190" y="318" width="1" height="3"/><rect x="1189" y="321" width="3" height="1"/><rect x="1190" y="322" width="1" height="12"/><rect x="1193" y="309" width="1" height="2"/><rect x="1192" y="311" width="3" height="11"/><rect x="1193" y="322" width="1" height="8"/><rect x="1201" y="302" width="1" height="9"/><rect x="1200" y="311" width="3" height="2"/><rect x="1201" y="313" width="1" height="3"/></g>
<g fill="#ef5350"><rect x="13" y="222" width="1" height="1"/><rect x="12" y="223" width="3" height="41"/><rect x="13" y="264" width="1" height="4"/><rect x="17" y="260" width="1" height="4"/><rect x="16" y="264" width="3" height="8"/><rect x="17" y="272" width="1" height="15"/><rect x="21" y="268" width="1" height="4"/><rect x="20" y="272" width="3" height="12"/><rect x="21" y="284" width="1" height="9"/><rect x="31" y="275" width="1" height="3"/><rect x="30" y="278" width="3" height="2"/><rect x="31" y="280" width="1" height="4"/><rect x="35" y="270" width="1" height="10"/><rect x="34" y="280" width="3" height="17"/><rect x="35" y="297" width="1" height="29"/><rect x="46" y="254" width="1" height="1"/><rect x="45" y="255" width="3" height="19"/><rect x="46" y="274" width="1" height="5"/><rect x="53" y="249" width="1" height="3"/><rect x="52" y="252" width="3" height="22"/><rect x="53" y="274" width="1" height="10"/><rect x="57" y="256" width="1" height="18"/><rect x="56" y="274" width="3" height="14"/><rect x="57" y="288" width="1" height="9"/><rect x="68" y="266" width="1" height="6"/><rect x="67" y="272" width="3" height="12"/><rect x="68" y="284" width="1" height="2"/><rect x="75" y="258" width="1" height="12"/><rect x="74" y="270" width="3" height="5"/><rect x="75" y="275" width="1" height="2"/><rect x="83" y="267" width="1" height="3"/><rect x="82" y="270" width="3" height="15"/><rect x="86" y="281" width="1" height="3"/><rect x="85" y="284" width="3" height="8"/><rect x="86" y="292" width="1" height="20"/><rect x="90" y="286" width="1" height="5"/><rect x="89" y="291" width="3" height="15"/><rect x="90" y="306" width="1" height="4"/><rect x="105" y="271" width="1" height="4"/><rect x="104" y="275" width="3" height="25"/><rect x="105" y="300" width="1" height="2"/><rect x="108" y="294" width="1" height="6"/><rect x="107" y="300" width="3" height="34"/><rect x="108" y="334" width="1" height="15"/><rect x="116" y="330" width="1" height="1"/><rect x="115" y="331" width="3" height="21"/><rect x="116" y="352" width="1" height="12"/><rect x="123" y="334" width="1" height="10"/><rect x="122" y="344" width="3" height="14"/><rect x="123" y="358" width="1" height="2"/><rect x="126" y="342" width="1" height="15"/><rect x="125" y="357" width="3" height="9"/><rect x="126" y="366" width="1" height="8"/><rect x="134" y="356" width="1" height="9"/><rect x="133" y="365" width="3" height="1"/><rect x="134" y="366" width="1" height="14"/><rect x="141" y="352" width="1" height="9"/><rect x="140" y="361" width="3" height="9"/><rect x="141" y="370" width="1" height="4"/><rect x="148" y="348" width="1" height="2"/><rect x="147" y="350" width="3" height="10"/><rect x="148" y="360" width="1" height="7"/><rect x="156" y="350" width="1" height="2"/><rect x="155" y="352" width="3" height="5"/><rect x="156" y="357" width="1" height="3"/><rect x="159" y="352" width="1" height="5"/><rect x="158" y="357" width="3" height="5"/><rect x="167" y="348" width="1" height="2"/><rect x="166" y="350" width="3" height="10"/><rect x="167" y="360" width="1" height="8"/><rect x="178" y="336" width="1" height="14"/><rect x="177" y="350" width="3" height="11"/><rect x="178" y="361" width="1" height="5"/><rect x="189" y="337" width="1" height="2"/><rect x="188" y="339" width="3" height="41"/><rect x="189" y="380" width="1" height="5"/><rect x="192" y="378" width="1" height="2"/><rect x="191" y="380" width="3" height="4"/><rect x="192" y="384" width="1" height="23"/><rect x="196" y="381" width="1" height="2"/><rect x="195" y="383" width="3" height="21"/><rect x="196" y="404" width="1" height="10"/><rect x="200" y="398" width="1" height="6"/><rect x="199" y="404" width="3" height="5"/><rect x="200" y="409" width="1" height="8"/><rect x="203" y="407" width="1" height="1"/><rect x="202" y="408" width="3" height="9"/><rect x="203" y="417" width="1" height="21"/><rect x="207" y="412" width="1" height="5"/><rect x="206" y="417" width="3" height="3"/><rect x="207" y="420" width="1" height="9"/><rect x="213" y="380" width="3" height="50"/><rect x="214" y="430" width="1" height="6"/><rect x="225" y="406" width="1" height="11"/><rect x="224" y="417" width="3" height="5"/><rect x="225" y="422" width="1" height="3"/><rect x="229" y="415" width="1" height="7"/><rect x="228" y="422" width="3" height="9"/><rect x="229" y="431" width="1" height="4"/><rect x="236" y="421" width="1" height="1"/><rect x="235" y="422" width="3" height="25"/><rect x="236" y="447" width="1" height="3"/><rect x="240" y="429" width="1" height="17"/><rect x="239" y="446" width="3" height="22"/><rect x="240" y="468" width="1" height="6"/><rect x="247" y="454" width="1" height="5"/><rect x="246" y="459" width="3" height="3"/><rect x="247" y="462" width="1" height="10"/><rect x="251" y="459" width="1" height="2"/><rect x="250" y="461" width="3" height="7"/><rect x="251" y="468" width="1" height="5"/><rect x="261" y="458" width="3" height="6"/><rect x="262" y="464" width="1" height="4"/><rect x="276" y="440" width="1" height="2"/><rect x="275" y="442" width="3" height="9"/><rect x="276" y="451" width="1" height="5"/><rect x="280" y="450" width="1" height="1"/><rect x="279" y="451" width="3" height="3"/><rect x="280" y="454" width="1" height="4"/><rect x="295" y="436" width="1" height="2"/><rect x="294" y="438" width="3" height="3"/><rect x="295" y="441" width="1" height="2"/><rect x="298" y="439" width="1" height="1"/><rect x="297" y="440" width="3" height="8"/><rect x="298" y="448" width="1" height="3"/><rect x="302" y="444" width="1" height="4"/><rect x="301" y="448" width="3" height="1"/><rect x="302" y="449" width="1" height="1"/><rect x="305" y="447" width="1" height="2"/><rect x="304" y="449" width="3" height="15"/><rect x="305" y="464" width="1" height="4"/><rect x="309" y="461" width="1" height="2"/><rect x="308" y="463" width="3" height="10"/><rect x="309" y="473" width="1" height="3"/><rect x="313" y="469" width="1" height="3"/><rect x="312" y="472" width="3" height="4"/><rect x="313" y="476" width="1" height="4"/><rect x="324" y="455" width="1" height="7"/><rect x="323" y="462" width="3" height="15"/><rect x="331" y="471" width="1" height="3"/><rect x="330" y="474" width="3" height="1"/><rect x="331" y="475" width="1" height="5"/><rect x="335" y="472" width="1" height="2"/><rect x="334" y="474" width="3" height="2"/><rect x="335" y="476" width="1" height="4"/><rect x="338" y="474" width="1" height="1"/><rect x="337" y="475" width="3" height="31"/><rect x="338" y="506" width="1" height="4"/><rect x="342" y="497" width="1" height="8"/><rect x="341" y="505" width="3" height="4"/><rect x="342" y="509" width="1" height="19"/><rect x="346" y="500" width="1" height="9"/><rect x="345" y="509" width="3" height="11"/><rect x="346" y="520" width="1" height="4"/><rect x="352" y="493" width="3" height="20"/><rect x="353" y="513" width="1" height="7"/><rect x="364" y="496" width="1" height="1"/><rect x="363" y="497" width="3" height="7"/><rect x="364" y="504" width="1" height="4"/><rect x="371" y="494" width="1" height="5"/><rect x="370" y="499" width="3" height="5"/><rect x="371" y="504" width="1" height="1"/><rect x="375" y="501" width="1" height="3"/><rect x="374" y="504" width="3" height="3"/><rect x="375" y="507" width="1" height="4"/><rect x="389" y="500" width="1" height="1"/><rect x="388" y="501" width="3" height="4"/><rect x="389" y="505" width="1" height="2"/><rect x="393" y="495" width="1" height="9"/><rect x="392" y="504" width="3" height="2"/><rect x="393" y="506" width="1" height="1"/><rect x="404" y="476" width="1" height="1"/><rect x="403" y="477" width="3" height="4"/><rect x="404" y="481" width="1" height="5"/><rect x="415" y="468" width="1" height="6"/><rect x="414" y="474" width="3" height="3"/><rect x="415" y="477" width="1" height="1"/><rect x="422" y="470" width="1" height="6"/><rect x="421" y="476" width="3" height="2"/><rect x="422" y="478" width="1" height="1"/><rect x="426" y="474" width="1" height="2"/><rect x="425" y="476" width="3" height="3"/><rect x="426" y="479" width="1" height="6"/><rect x="437" y="469" width="1" height="1"/><rect x="436" y="470" width="3" height="2"/><rect x="437" y="472" width="1" height="3"/><rect x="441" y="469" width="1" height="2"/><rect x="440" y="471" width="3" height="5"/><rect x="448" y="472" width="1" height="1"/><rect x="447" y="473" width="3" height="1"/><rect x="448" y="474" width="1" height="8"/><rect x="452" y="469" width="1" height="5"/><rect x="451" y="474" width="3" height="1"/><rect x="452" y="475" width="1" height="3"/><rect x="466" y="368" width="1" height="3"/><rect x="465" y="371" width="3" height="10"/><rect x="466" y="381" width="1" height="9"/><rect x="470" y="366" width="1" height="14"/><rect x="469" y="380" width="3" height="4"/><rect x="470" y="384" width="1" height="10"/><rect x="477" y="352" width="1" height="6"/><rect x="476" y="358" width="3" height="10"/><rect x="477" y="368" width="1" height="1"/><rect x="481" y="363" width="1" height="5"/><rect x="480" y="368" width="3" height="8"/><rect x="481" y="376" width="1" height="8"/><rect x="484" y="362" width="1" height="14"/><rect x="483" y="376" width="3" height="2"/><rect x="484" y="378" width="1" height="9"/><rect x="488" y="376" width="1" height="1"/><rect x="487" y="377" width="3" height="9"/><rect x="488" y="386" width="1" height="2"/><rect x="499" y="370" width="1" height="8"/><rect x="498" y="378" width="3" height="1"/><rect x="499" y="379" width="1" height="11"/><rect x="510" y="351" width="1" height="9"/><rect x="509" y="360" width="3" height="20"/><rect x="510" y="380" width="1" height="2"/><rect x="532" y="344" width="1" height="14"/><rect x="531" y="358" width="3" height="8"/><rect x="536" y="362" width="1" height="3"/><rect x="535" y="365" width="3" height="13"/><rect x="536" y="378" width="1" height="3"/><rect x="539" y="376" width="1" height="2"/><rect x="538" y="378" width="3" height="1"/><rect x="539" y="379" width="1" height="7"/><rect x="550" y="361" width="1" height="7"/><rect x="549" y="368" width="3" height="3"/><rect x="558" y="363" width="1" height="5"/><rect x="557" y="368" width="3" height="27"/><rect x="558" y="395" width="1" height="1"/><rect x="569" y="376" width="1" height="3"/><rect x="568" y="379" width="3" height="3"/><rect x="569" y="382" width="1" height="2"/><rect x="579" y="332" width="1" height="8"/><rect x="578" y="340" width="3" height="7"/><rect x="579" y="347" width="1" height="2"/><rect x="583" y="344" width="1" height="2"/><rect x="582" y="346" width="3" height="18"/><rect x="583" y="364" width="1" height="3"/><rect x="586" y="363" width="3" height="10"/><rect x="587" y="373" width="1" height="18"/><rect x="590" y="371" width="1" height="1"/><rect x="589" y="372" width="3" height="7"/><rect x="590" y="379" width="1" height="5"/><rect x="598" y="358" width="1" height="18"/><rect x="597" y="376" width="3" height="1"/><rect x="598" y="377" width="1" height="4"/><rect x="601" y="366" width="1" height="10"/><rect x="600" y="376" width="3" height="6"/><rect x="601" y="382" width="1" height="6"/><rect x="609" y="377" width="1" height="2"/><rect x="608" y="379" width="3" height="1"/><rect x="609" y="380" width="1" height="3"/><rect x="612" y="373" width="1" height="6"/><rect x="611" y="379" width="3" height="17"/><rect x="612" y="396" width="1" height="4"/><rect x="616" y="389" width="1" height="6"/><rect x="615" y="395" width="3" height="15"/><rect x="616" y="410" width="1" height="10"/><rect x="620" y="407" width="1" height="3"/><rect x="619" y="410" width="3" height="10"/><rect x="620" y="420" width="1" height="14"/><rect x="631" y="386" width="1" height="3"/><rect x="630" y="389" width="3" height="4"/><rect x="631" y="393" width="1" height="4"/><rect x="634" y="379" width="1" height="14"/><rect x="633" y="393" width="3" height="1"/><rect x="634" y="394" width="1" height="2"/><rect x="649" y="379" width="1" height="3"/><rect x="648" y="382" width="3" height="4"/><rect x="649" y="386" width="1" height="4"/><rect x="653" y="382" width="1" height="2"/><rect x="652" y="384" width="3" height="12"/><rect x="663" y="368" width="1" height="2"/><rect x="662" y="370" width="3" height="12"/><rect x="663" y="382" width="1" height="3"/><rect x="674" y="370" width="1" height="3"/><rect x="673" y="373" width="3" height="6"/><rect x="674" y="379" width="1" height="1"/><rect x="693" y="318" width="1" height="3"/><rect x="692" y="321" width="3" height="2"/><rect x="693" y="323" width="1" height="5"/><rect x="729" y="209" width="1" height="4"/><rect x="728" y="213" width="3" height="3"/><rect x="729" y="216" width="1" height="17"/><rect x="733" y="213" width="1" height="3"/><rect x="732" y="216" width="3" height="16"/><rect x="733" y="232" width="1" height="13"/><rect x="751" y="189" width="1" height="10"/><rect x="750" y="199" width="3" height="10"/><rect x="751" y="209" width="1" height="4"/><rect x="755" y="197" width="1" height="11"/><rect x="754" y="208" width="3" height="1"/><rect x="755" y="209" width="1" height="10"/><rect x="762" y="198" width="1" height="9"/><rect x="761" y="207" width="3" height="16"/><rect x="766" y="219" width="1" height="3"/><rect x="765" y="222" width="3" height="29"/><rect x="766" y="251" width="1" height="7"/><rect x="769" y="244" width="1" height="6"/><rect x="768" y="250" width="3" height="14"/><rect x="769" y="264" width="1" height="2"/><rect x="779" y="219" width="3" height="14"/><rect x="780" y="233" width="1" height="9"/><rect x="799" y="137" width="1" height="10"/><rect x="798" y="147" width="3" height="1"/><rect x="799" y="148" width="1" height="12"/><rect x="802" y="133" width="1" height="15"/><rect x="801" y="148" width="3" height="4"/><rect x="802" y="152" width="1" height="6"/><rect x="813" y="76" width="1" height="5"/><rect x="812" y="81" width="3" height="27"/><rect x="813" y="108" width="1" height="12"/><rect x="817" y="92" width="1" height="16"/><rect x="816" y="108" width="3" height="16"/><rect x="817" y="124" width="1" height="7"/><rect x="821" y="116" width="1" height="7"/><rect x="820" y="123" width="3" height="2"/><rect x="821" y="125" width="1" height="6"/><rect x="827" y="118" width="3" height="23"/><rect x="828" y="141" width="1" height="10"/><rect x="832" y="134" width="1" height="7"/><rect x="831" y="141" width="3" height="31"/><rect x="832" y="172" width="1" height="1"/><rect x="839" y="136" width="1" height="2"/><rect x="838" y="138" width="3" height="14"/><rect x="839" y="152" width="1" height="2"/><rect x="845" y="70" width="3" height="7"/><rect x="846" y="77" width="1" height="15"/><rect x="853" y="75" width="1" height="2"/><rect x="852" y="77" width="3" height="55"/><rect x="853" y="132" width="1" height="4"/><rect x="861" y="93" width="1" height="8"/><rect x="860" y="101" width="3" height="13"/><rect x="861" y="114" width="1" height="2"/><rect x="868" y="112" width="1" height="1"/><rect x="867" y="113" width="3" height="21"/><rect x="868" y="134" width="1" height="12"/><rect x="879" y="116" width="1" height="13"/><rect x="878" y="129" width="3" height="11"/><rect x="879" y="140" width="1" height="13"/><rect x="890" y="117" width="1" height="4"/><rect x="889" y="121" width="3" height="21"/><rect x="890" y="142" width="1" height="3"/><rect x="897" y="138" width="1" height="3"/><rect x="896" y="141" width="3" height="4"/><rect x="897" y="145" width="1" height="5"/><rect x="923" y="79" width="1" height="7"/><rect x="922" y="86" width="3" height="6"/><rect x="923" y="92" width="1" height="8"/><rect x="927" y="89" width="1" height="2"/><rect x="926" y="91" width="3" height="11"/><rect x="927" y="102" width="1" height="2"/><rect x="930" y="92" width="1" height="9"/><rect x="929" y="101" width="3" height="12"/><rect x="930" y="113" width="1" height="1"/><rect x="934" y="110" width="1" height="2"/><rect x="933" y="112" width="3" height="4"/><rect x="934" y="116" width="1" height="8"/><rect x="941" y="95" width="1" height="8"/><rect x="940" y="103" width="3" height="1"/><rect x="941" y="104" width="1" height="4"/><rect x="945" y="99" width="1" height="4"/><rect x="944" y="103" width="3" height="16"/><rect x="945" y="119" width="1" height="3"/><rect x="952" y="115" width="1" height="3"/><rect x="951" y="118" width="3" height="4"/><rect x="956" y="121" width="1" height="1"/><rect x="955" y="122" width="3" height="33"/><rect x="956" y="155" width="1" height="16"/><rect x="959" y="151" width="1" height="4"/><rect x="958" y="155" width="3" height="5"/><rect x="959" y="160" width="1" height="6"/><rect x="963" y="154" width="1" height="6"/><rect x="962" y="160" width="3" height="1"/><rect x="963" y="161" width="1" height="10"/><rect x="967" y="160" width="1" height="1"/><rect x="966" y="161" width="3" height="37"/><rect x="967" y="198" width="1" height="8"/><rect x="974" y="176" width="1" height="1"/><rect x="973" y="177" width="3" height="3"/><rect x="974" y="180" width="1" height="4"/><rect x="985" y="148" width="1" height="5"/><rect x="984" y="153" width="3" height="10"/><rect x="985" y="163" width="1" height="5"/><rect x="1000" y="112" width="1" height="1"/><rect x="999" y="113" width="3" height="4"/><rect x="1000" y="117" width="1" height="6"/><rect x="1011" y="81" width="1" height="9"/><rect x="1010" y="90" width="3" height="33"/><rect x="1011" y="123" width="1" height="1"/><rect x="1018" y="110" width="1" height="1"/><rect x="1017" y="111" width="3" height="22"/><rect x="1018" y="133" width="1" height="13"/><rect x="1022" y="130" width="1" height="2"/><rect x="1021" y="132" width="3" height="73"/><rect x="1022" y="205" width="1" height="51"/><rect x="1025" y="198" width="1" height="6"/><rect x="1024" y="204" width="3" height="11"/><rect x="1025" y="215" width="1" height="14"/><rect x="1036" y="146" width="1" height="3"/><rect x="1035" y="149" width="3" height="17"/><rect x="1036" y="166" width="1" height="30"/><rect x="1040" y="152" width="1" height="13"/><rect x="1039" y="165" width="3" height="19"/><rect x="1040" y="184" width="1" height="6"/><rect x="1043" y="170" width="1" height="14"/><rect x="1042" y="184" width="3" height="13"/><rect x="1043" y="197" width="1" height="7"/><rect x="1047" y="188" width="1" height="8"/><rect x="1046" y="196" width="3" height="8"/><rect x="1047" y="204" width="1" height="20"/><rect x="1058" y="170" width="1" height="14"/><rect x="1057" y="184" width="3" height="1"/><rect x="1058" y="185" width="1" height="9"/><rect x="1062" y="167" width="1" height="17"/><rect x="1061" y="184" width="3" height="16"/><rect x="1062" y="200" width="1" height="3"/><rect x="1065" y="196" width="1" height="3"/><rect x="1064" y="199" width="3" height="10"/><rect x="1065" y="209" width="1" height="11"/><rect x="1084" y="148" width="1" height="12"/><rect x="1083" y="160" width="3" height="7"/><rect x="1084" y="167" width="1" height="1"/><rect x="1087" y="158" width="1" height="8"/><rect x="1086" y="166" width="3" height="19"/><rect x="1087" y="185" width="1" height="6"/><rect x="1091" y="177" width="1" height="7"/><rect x="1090" y="184" width="3" height="12"/><rect x="1091" y="196" width="1" height="7"/><rect x="1095" y="188" width="1" height="7"/><rect x="1094" y="195" width="3" height="14"/><rect x="1095" y="209" width="1" height="15"/><rect x="1109" y="193" width="1" height="1"/><rect x="1108" y="194" width="3" height="42"/><rect x="1109" y="236" width="1" height="4"/><rect x="1113" y="228" width="1" height="8"/><rect x="1112" y="236" width="3" height="41"/><rect x="1113" y="277" width="1" height="30"/><rect x="1120" y="254" width="1" height="5"/><rect x="1119" y="259" width="3" height="14"/><rect x="1120" y="273" width="1" height="10"/><rect x="1127" y="250" width="1" height="7"/><rect x="1126" y="257" width="3" height="5"/><rect x="1127" y="262" width="1" height="6"/><rect x="1135" y="227" width="1" height="10"/><rect x="1134" y="237" width="3" height="3"/><rect x="1135" y="240" width="1" height="7"/><rect x="1138" y="228" width="1" height="11"/><rect x="1137" y="239" width="3" height="21"/><rect x="1138" y="260" width="1" height="1"/><rect x="1142" y="237" width="1" height="22"/><rect x="1141" y="259" width="3" height="1"/><rect x="1142" y="260" width="1" height="6"/><rect x="1146" y="240" width="1" height="20"/><rect x="1145" y="260" width="3" height="24"/><rect x="1146" y="284" width="1" height="11"/><rect x="1149" y="281" width="1" height="3"/><rect x="1148" y="284" width="3" height="17"/><rect x="1149" y="301" width="1" height="5"/><rect x="1157" y="282" width="1" height="11"/><rect x="1156" y="293" width="3" height="10"/><rect x="1157" y="303" width="1" height="12"/><rect x="1160" y="285" width="1" height="18"/><rect x="1159" y="303" width="3" height="8"/><rect x="1160" y="311" width="1" height="9"/><rect x="1167" y="299" width="3" height="14"/><rect x="1168" y="313" width="1" height="18"/><rect x="1171" y="307" width="1" height="5"/><rect x="1170" y="312" width="3" height="27"/><rect x="1171" y="339" width="1" height="4"/><rect x="1175" y="331" width="1" height="7"/><rect x="1174" y="338" width="3" height="10"/><rect x="1175" y="348" width="1" height="18"/><rect x="1197" y="306" width="1" height="6"/><rect x="1196" y="312" width="3" height="2"/><rect x="1197" y="314" width="1" height="2"/></g>
</g>
<g clip-path="url(#cr)">
<rect x="11" y="613" width="1266" height="103" fill="#7e57c2" fill-opacity="0.1"/>
<path d="M10.5,613.90 L10.5,613.90 L13.5,613.90 L17.5,613.90 L21.5,613.90 L24.5,613.90 L28.5,613.90 L31.5,613.90 L35.5,613.90 L39.5,613.90 L42.5,613.90 L46.5,613.90 L50.5,613.90 L53.5,613.90 L57.5,613.90 L61.5,613.90 L64.5,613.90 L68.5,613.90 L72.5,613.90 L75.5,613.90 L79.5,613.90 L83.5,613.90 L86.5,613.90 L90.5,613.90 L94.5,613.90 L97.5,613.90 L101.5,613.90 L105.5,613.90 L108.5,613.90 L112.5,613.90 L116.5,613.90 L119.5,613.90 L123.5,613.90 L126.5,613.90 L130.5,613.90 L134.5,613.90 L137.5,613.90 L141.5,613.90 L145.5,613.90 L148.5,613.90 L152.5,613.90 L156.5,613.90 L159.5,613.90 L163.5,613.90 L167.5,613.90 L170.5,613.90 L174.5,613.90 L178.5,613.90 L181.5,613.90 L185.5,613.90 L189.5,613.90 L192.5,613.90 L196.5,613.90 L200.5,613.90 L203.5,613.90 L207.5,613.90 L210.5,613.90 L214.5,613.90 L218.5,613.90 L221.5,613.90 L225.5,613.90 L229.5,613.90 L232.5,613.90 L236.5,613.90 L240.5,613.90 L243.5,613.90 L247.5,613.90 L251.5,613.90 L254.5,613.90 L258.5,613.90 L262.5,613.90 L265.5,613.90 L269.5,613.90 L273.5,613.90 L276.5,613.90 L280.5,613.90 L284.5,613.90 L287.5,613.90 L291.5,613.90 L295.5,613.90 L298.5,613.90 L302.5,613.90 L305.5,613.90 L309.5,613.90 L313.5,613.90 L316.5,613.90 L320.5,613.90 L324.5,613.90 L327.5,613.90 L331.5,613.90 L335.5,613.90 L338.5,613.90 L342.5,613.90 L346.5,613.90 L349.5,613.90 L353.5,613.90 L357.5,613.90 L360.5,613.90 L364.5,613.90 L368.5,613.90 L371.5,613.90 L375.5,613.90 L379.5,613.90 L382.5,613.90 L386.5,613.90 L389.5,613.90 L393.5,613.90 L397.5,613.90 L400.5,613.90 L404.5,613.90 L408.5,613.90 L411.5,613.90 L415.5,613.90 L419.5,613.90 L422.5,613.90 L426.5,613.90 L430.5,613.90 L433.5,613.90 L437.5,613.90 L441.5,613.90 L444.5,613.90 L448.5,613.90 L452.5,613.90 L455.5,597.59 L459.5,588.57 L463.5,577.34 L466.5,592.25 L470.5,596.21 L474.5,586.29 L477.5,600.37 L481.5,610.89 L484.5,612.70 L488.5,613.90 L492.5,613.90 L495.5,613.90 L499.5,613.90 L503.5,613.90 L506.5,606.92 L510.5,613.90 L514.5,613.90 L517.5,613.90 L521.5,613.90 L525.5,613.90 L528.5,613.90 L532.5,613.90 L536.5,613.90 L539.5,613.90 L543.5,613.90 L547.5,613.90 L550.5,613.90 L554.5,613.90 L558.5,613.90 L561.5,613.90 L565.5,613.90 L569.5,613.90 L572.5,613.90 L576.5,613.90 L579.5,613.90 L583.5,613.90 L587.5,613.90 L590.5,613.90 L594.5,613.90 L598.5,613.90 L601.5,613.90 L605.5,613.90 L609.5,613.90 L612.5,613.90 L616.5,613.90 L620.5,613.90 L623.5,613.90 L627.5,613.90 L631.5,613.90 L634.5,613.90 L638.5,613.90 L642.5,613.90 L645.5,613.90 L649.5,613.90 L653.5,613.90 L656.5,613.90 L660.5,613.90 L663.5,613.90 L667.5,613.90 L671.5,613.90 L674.5,613.90 L678.5,613.90 L682.5,613.90 L685.5,612.87 L689.5,612.29 L693.5,613.90 L696.5,612.59 L700.5,609.35 L704.5,599.27 L707.5,586.39 L711.5,581.95 L715.5,578.98 L718.5,577.16 L722.5,571.75 L726.5,571.33 L729.5,577.01 L733.5,599.90 L737.5,595.33 L740.5,594.08 L744.5,593.17 L748.5,586.24 L751.5,601.20 L755.5,601.20 L758.5,600.37 L762.5,613.90 L766.5,613.90 L769.5,613.90 L773.5,613.90 L777.5,613.90 L780.5,613.90 L784.5,613.90 L788.5,613.90 L791.5,613.90 L795.5,605.80 L799.5,607.04 L802.5,611.21 L806.5,594.92 L810.5,589.39 L813.5,612.38 L817.5,613.90 L821.5,613.90 L824.5,613.90 L828.5,613.90 L832.5,613.90 L835.5,613.90 L839.5,613.90 L843.5,613.90 L846.5,613.90 L850.5,613.90 L853.5,613.90 L857.5,613.90 L861.5,613.90 L864.5,613.90 L868.5,613.90 L872.5,613.90 L875.5,613.90 L879.5,613.90 L883.5,613.90 L886.5,613.90 L890.5,613.90 L894.5,613.90 L897.5,613.90 L901.5,613.90 L905.5,613.90 L908.5,613.90 L912.5,613.90 L916.5,613.90 L919.5,613.90 L923.5,613.90 L927.5,613.90 L930.5,613.90 L934.5,613.90 L937.5,613.90 L941.5,613.90 L945.5,613.90 L948.5,613.90 L952.5,613.90 L956.5,613.90 L959.5,613.90 L963.5,613.90 L967.5,613.90 L970.5,613.90 L974.5,613.90 L978.5,613.90 L981.5,613.90 L985.5,613.90 L989.5,613.90 L992.5,613.90 L996.5,613.90 L1000.5,613.90 L1003.5,613.90 L1007.5,613.90 L1011.5,613.90 L1014.5,613.90 L1018.5,613.90 L1022.5,613.90 L1025.5,613.90 L1029.5,613.90 L1032.5,613.90 L1036.5,613.90 L1040.5,613.90 L1043.5,613.90 L1047.5,613.90 L1051.5,613.90 L1054.5,613.90 L1058.5,613.90 L1062.5,613.90 L1065.5,613.90 L1069.5,613.90 L1073.5,613.90 L1076.5,613.90 L1080.5,613.90 L1084.5,613.90 L1087.5,613.90 L1091.5,613.90 L1095.5,613.90 L1098.5,613.90 L1102.5,613.90 L1106.5,613.90 L1109.5,613.90 L1113.5,613.90 L1117.5,613.90 L1120.5,613.90 L1124.5,613.90 L1127.5,613.90 L1131.5,613.90 L1135.5,613.90 L1138.5,613.90 L1142.5,613.90 L1146.5,613.90 L1149.5,613.90 L1153.5,613.90 L1157.5,613.90 L1160.5,613.90 L1164.5,613.90 L1168.5,613.90 L1171.5,613.90 L1175.5,613.90 L1179.5,613.90 L1182.5,613.90 L1186.5,613.90 L1190.5,613.90 L1193.5,613.90 L1197.5,613.90 L1201.5,613.90 L1201.5,613.90 Z" fill="url(#gob)" shape-rendering="auto"/>
<path d="M10.5,715.50 L10.5,715.50 L13.5,715.50 L17.5,715.50 L21.5,715.50 L24.5,715.50 L28.5,715.50 L31.5,715.50 L35.5,715.50 L39.5,715.50 L42.5,715.50 L46.5,715.50 L50.5,715.50 L53.5,715.50 L57.5,715.50 L61.5,715.50 L64.5,715.50 L68.5,715.50 L72.5,715.50 L75.5,715.50 L79.5,715.50 L83.5,715.50 L86.5,715.50 L90.5,715.50 L94.5,715.50 L97.5,715.50 L101.5,715.50 L105.5,715.50 L108.5,715.50 L112.5,715.50 L116.5,715.50 L119.5,715.50 L123.5,715.50 L126.5,715.50 L130.5,715.50 L134.5,715.50 L137.5,715.50 L141.5,715.50 L145.5,715.50 L148.5,715.50 L152.5,715.50 L156.5,715.50 L159.5,715.50 L163.5,715.50 L167.5,715.50 L170.5,715.50 L174.5,715.50 L178.5,715.50 L181.5,715.50 L185.5,715.50 L189.5,715.50 L192.5,715.50 L196.5,715.50 L200.5,715.50 L203.5,716.41 L207.5,717.88 L210.5,715.50 L214.5,715.50 L218.5,715.50 L221.5,715.50 L225.5,715.50 L229.5,715.50 L232.5,715.50 L236.5,715.50 L240.5,715.50 L243.5,715.50 L247.5,715.50 L251.5,715.50 L254.5,715.50 L258.5,715.50 L262.5,715.50 L265.5,715.50 L269.5,715.50 L273.5,715.50 L276.5,715.50 L280.5,715.50 L284.5,715.50 L287.5,715.50 L291.5,715.50 L295.5,715.50 L298.5,715.50 L302.5,715.50 L305.5,715.50 L309.5,715.50 L313.5,715.50 L316.5,715.50 L320.5,715.50 L324.5,715.50 L327.5,715.50 L331.5,715.50 L335.5,715.50 L338.5,718.98 L342.5,721.22 L346.5,727.82 L349.5,715.50 L353.5,715.50 L357.5,715.50 L360.5,715.50 L364.5,715.50 L368.5,715.50 L371.5,715.50 L375.5,715.50 L379.5,715.50 L382.5,715.50 L386.5,715.50 L389.5,715.50 L393.5,715.50 L397.5,715.50 L400.5,715.50 L404.5,715.50 L408.5,715.50 L411.5,715.50 L415.5,715.50 L419.5,715.50 L422.5,715.50 L426.5,715.50 L430.5,715.50 L433.5,715.50 L437.5,715.50 L441.5,715.50 L444.5,715.50 L448.5,715.50 L452.5,715.50 L455.5,715.50 L459.5,715.50 L463.5,715.50 L466.5,715.50 L470.5,715.50 L474.5,715.50 L477.5,715.50 L481.5,715.50 L484.5,715.50 L488.5,715.50 L492.5,715.50 L495.5,715.50 L499.5,715.50 L503.5,715.50 L506.5,715.50 L510.5,715.50 L514.5,715.50 L517.5,715.50 L521.5,715.50 L525.5,715.50 L528.5,715.50 L532.5,715.50 L536.5,715.50 L539.5,715.50 L543.5,715.50 L547.5,715.50 L550.5,715.50 L554.5,715.50 L558.5,715.50 L561.5,715.50 L565.5,715.50 L569.5,715.50 L572.5,715.50 L576.5,715.50 L579.5,715.50 L583.5,715.50 L587.5,715.50 L590.5,715.50 L594.5,715.50 L598.5,715.50 L601.5,715.50 L605.5,715.50 L609.5,715.50 L612.5,715.50 L616.5,715.50 L620.5,715.50 L623.5,715.50 L627.5,715.50 L631.5,715.50 L634.5,715.50 L638.5,715.50 L642.5,715.50 L645.5,715.50 L649.5,715.50 L653.5,715.50 L656.5,715.50 L660.5,715.50 L663.5,715.50 L667.5,715.50 L671.5,715.50 L674.5,715.50 L678.5,715.50 L682.5,715.50 L685.5,715.50 L689.5,715.50 L693.5,715.50 L696.5,715.50 L700.5,715.50 L704.5,715.50 L707.5,715.50 L711.5,715.50 L715.5,715.50 L718.5,715.50 L722.5,715.50 L726.5,715.50 L729.5,715.50 L733.5,715.50 L737.5,715.50 L740.5,715.50 L744.5,715.50 L748.5,715.50 L751.5,715.50 L755.5,715.50 L758.5,715.50 L762.5,715.50 L766.5,715.50 L769.5,715.50 L773.5,715.50 L777.5,715.50 L780.5,715.50 L784.5,715.50 L788.5,715.50 L791.5,715.50 L795.5,715.50 L799.5,715.50 L802.5,715.50 L806.5,715.50 L810.5,715.50 L813.5,715.50 L817.5,715.50 L821.5,715.50 L824.5,715.50 L828.5,715.50 L832.5,715.50 L835.5,715.50 L839.5,715.50 L843.5,715.50 L846.5,715.50 L850.5,715.50 L853.5,715.50 L857.5,715.50 L861.5,715.50 L864.5,715.50 L868.5,715.50 L872.5,715.50 L875.5,715.50 L879.5,715.50 L883.5,715.50 L886.5,715.50 L890.5,715.50 L894.5,715.50 L897.5,715.50 L901.5,715.50 L905.5,715.50 L908.5,715.50 L912.5,715.50 L916.5,715.50 L919.5,715.50 L923.5,715.50 L927.5,715.50 L930.5,715.50 L934.5,715.50 L937.5,715.50 L941.5,715.50 L945.5,715.50 L948.5,715.50 L952.5,715.50 L956.5,715.50 L959.5,715.50 L963.5,715.50 L967.5,715.50 L970.5,715.50 L974.5,715.50 L978.5,715.50 L981.5,715.50 L985.5,715.50 L989.5,715.50 L992.5,715.50 L996.5,715.50 L1000.5,715.50 L1003.5,715.50 L1007.5,715.50 L1011.5,715.50 L1014.5,715.50 L1018.5,715.50 L1022.5,715.50 L1025.5,715.50 L1029.5,715.50 L1032.5,715.50 L1036.5,715.50 L1040.5,715.50 L1043.5,715.50 L1047.5,715.50 L1051.5,715.50 L1054.5,715.50 L1058.5,715.50 L1062.5,715.50 L1065.5,715.50 L1069.5,715.50 L1073.5,715.50 L1076.5,715.50 L1080.5,715.50 L1084.5,715.50 L1087.5,715.50 L1091.5,715.50 L1095.5,715.50 L1098.5,715.50 L1102.5,715.50 L1106.5,715.50 L1109.5,715.50 L1113.5,716.19 L1117.5,715.50 L1120.5,715.50 L1124.5,715.50 L1127.5,715.50 L1131.5,715.50 L1135.5,715.50 L1138.5,715.50 L1142.5,715.50 L1146.5,715.50 L1149.5,715.50 L1153.5,715.50 L1157.5,715.50 L1160.5,715.50 L1164.5,715.50 L1168.5,715.50 L1171.5,717.89 L1175.5,721.20 L1179.5,719.33 L1182.5,715.50 L1186.5,715.50 L1190.5,715.50 L1193.5,715.50 L1197.5,715.50 L1201.5,715.50 L1201.5,715.50 Z" fill="url(#gos)" shape-rendering="auto"/>
<g fill="#787b86" fill-opacity="1"><rect x="10" y="613" width="5" height="1"/><rect x="21" y="613" width="5" height="1"/><rect x="32" y="613" width="5" height="1"/><rect x="43" y="613" width="5" height="1"/><rect x="54" y="613" width="5" height="1"/><rect x="65" y="613" width="5" height="1"/><rect x="76" y="613" width="5" height="1"/><rect x="87" y="613" width="5" height="1"/><rect x="98" y="613" width="5" height="1"/><rect x="109" y="613" width="5" height="1"/><rect x="120" y="613" width="5" height="1"/><rect x="131" y="613" width="5" height="1"/><rect x="142" y="613" width="5" height="1"/><rect x="153" y="613" width="5" height="1"/><rect x="164" y="613" width="5" height="1"/><rect x="175" y="613" width="5" height="1"/><rect x="186" y="613" width="5" height="1"/><rect x="197" y="613" width="5" height="1"/><rect x="208" y="613" width="5" height="1"/><rect x="219" y="613" width="5" height="1"/><rect x="230" y="613" width="5" height="1"/><rect x="241" y="613" width="5" height="1"/><rect x="252" y="613" width="5" height="1"/><rect x="263" y="613" width="5" height="1"/><rect x="274" y="613" width="5" height="1"/><rect x="285" y="613" width="5" height="1"/><rect x="296" y="613" width="5" height="1"/><rect x="307" y="613" width="5" height="1"/><rect x="318" y="613" width="5" height="1"/><rect x="329" y="613" width="5" height="1"/><rect x="340" y="613" width="5" height="1"/><rect x="351" y="613" width="5" height="1"/><rect x="362" y="613" width="5" height="1"/><rect x="373" y="613" width="5" height="1"/><rect x="384" y="613" width="5" height="1"/><rect x="395" y="613" width="5" height="1"/><rect x="406" y="613" width="5" height="1"/><rect x="417" y="613" width="5" height="1"/><rect x="428" y="613" width="5" height="1"/><rect x="439" y="613" width="5" height="1"/><rect x="450" y="613" width="5" height="1"/><rect x="461" y="613" width="5" height="1"/><rect x="472" y="613" width="5" height="1"/><rect x="483" y="613" width="5" height="1"/><rect x="494" y="613" width="5" height="1"/><rect x="505" y="613" width="5" height="1"/><rect x="516" y="613" width="5" height="1"/><rect x="527" y="613" width="5" height="1"/><rect x="538" y="613" width="5" height="1"/><rect x="549" y="613" width="5" height="1"/><rect x="560" y="613" width="5" height="1"/><rect x="571" y="613" width="5" height="1"/><rect x="582" y="613" width="5" height="1"/><rect x="593" y="613" width="5" height="1"/><rect x="604" y="613" width="5" height="1"/><rect x="615" y="613" width="5" height="1"/><rect x="626" y="613" width="5" height="1"/><rect x="637" y="613" width="5" height="1"/><rect x="648" y="613" width="5" height="1"/><rect x="659" y="613" width="5" height="1"/><rect x="670" y="613" width="5" height="1"/><rect x="681" y="613" width="5" height="1"/><rect x="692" y="613" width="5" height="1"/><rect x="703" y="613" width="5" height="1"/><rect x="714" y="613" width="5" height="1"/><rect x="725" y="613" width="5" height="1"/><rect x="736" y="613" width="5" height="1"/><rect x="747" y="613" width="5" height="1"/><rect x="758" y="613" width="5" height="1"/><rect x="769" y="613" width="5" height="1"/><rect x="780" y="613" width="5" height="1"/><rect x="791" y="613" width="5" height="1"/><rect x="802" y="613" width="5" height="1"/><rect x="813" y="613" width="5" height="1"/><rect x="824" y="613" width="5" height="1"/><rect x="835" y="613" width="5" height="1"/><rect x="846" y="613" width="5" height="1"/><rect x="857" y="613" width="5" height="1"/><rect x="868" y="613" width="5" height="1"/><rect x="879" y="613" width="5" height="1"/><rect x="890" y="613" width="5" height="1"/><rect x="901" y="613" width="5" height="1"/><rect x="912" y="613" width="5" height="1"/><rect x="923" y="613" width="5" height="1"/><rect x="934" y="613" width="5" height="1"/><rect x="945" y="613" width="5" height="1"/><rect x="956" y="613" width="5" height="1"/><rect x="967" y="613" width="5" height="1"/><rect x="978" y="613" width="5" height="1"/><rect x="989" y="613" width="5" height="1"/><rect x="1000" y="613" width="5" height="1"/><rect x="1011" y="613" width="5" height="1"/><rect x="1022" y="613" width="5" height="1"/><rect x="1033" y="613" width="5" height="1"/><rect x="1044" y="613" width="5" height="1"/><rect x="1055" y="613" width="5" height="1"/><rect x="1066" y="613" width="5" height="1"/><rect x="1077" y="613" width="5" height="1"/><rect x="1088" y="613" width="5" height="1"/><rect x="1099" y="613" width="5" height="1"/><rect x="1110" y="613" width="5" height="1"/><rect x="1121" y="613" width="5" height="1"/><rect x="1132" y="613" width="5" height="1"/><rect x="1143" y="613" width="5" height="1"/><rect x="1154" y="613" width="5" height="1"/><rect x="1165" y="613" width="5" height="1"/><rect x="1176" y="613" width="5" height="1"/><rect x="1187" y="613" width="5" height="1"/><rect x="1198" y="613" width="5" height="1"/><rect x="1209" y="613" width="5" height="1"/><rect x="1220" y="613" width="5" height="1"/><rect x="1231" y="613" width="5" height="1"/><rect x="1242" y="613" width="5" height="1"/><rect x="1253" y="613" width="5" height="1"/><rect x="1264" y="613" width="5" height="1"/><rect x="1275" y="613" width="5" height="1"/></g>
<g fill="#787b86" fill-opacity="0.5"><rect x="10" y="664" width="5" height="1"/><rect x="21" y="664" width="5" height="1"/><rect x="32" y="664" width="5" height="1"/><rect x="43" y="664" width="5" height="1"/><rect x="54" y="664" width="5" height="1"/><rect x="65" y="664" width="5" height="1"/><rect x="76" y="664" width="5" height="1"/><rect x="87" y="664" width="5" height="1"/><rect x="98" y="664" width="5" height="1"/><rect x="109" y="664" width="5" height="1"/><rect x="120" y="664" width="5" height="1"/><rect x="131" y="664" width="5" height="1"/><rect x="142" y="664" width="5" height="1"/><rect x="153" y="664" width="5" height="1"/><rect x="164" y="664" width="5" height="1"/><rect x="175" y="664" width="5" height="1"/><rect x="186" y="664" width="5" height="1"/><rect x="197" y="664" width="5" height="1"/><rect x="208" y="664" width="5" height="1"/><rect x="219" y="664" width="5" height="1"/><rect x="230" y="664" width="5" height="1"/><rect x="241" y="664" width="5" height="1"/><rect x="252" y="664" width="5" height="1"/><rect x="263" y="664" width="5" height="1"/><rect x="274" y="664" width="5" height="1"/><rect x="285" y="664" width="5" height="1"/><rect x="296" y="664" width="5" height="1"/><rect x="307" y="664" width="5" height="1"/><rect x="318" y="664" width="5" height="1"/><rect x="329" y="664" width="5" height="1"/><rect x="340" y="664" width="5" height="1"/><rect x="351" y="664" width="5" height="1"/><rect x="362" y="664" width="5" height="1"/><rect x="373" y="664" width="5" height="1"/><rect x="384" y="664" width="5" height="1"/><rect x="395" y="664" width="5" height="1"/><rect x="406" y="664" width="5" height="1"/><rect x="417" y="664" width="5" height="1"/><rect x="428" y="664" width="5" height="1"/><rect x="439" y="664" width="5" height="1"/><rect x="450" y="664" width="5" height="1"/><rect x="461" y="664" width="5" height="1"/><rect x="472" y="664" width="5" height="1"/><rect x="483" y="664" width="5" height="1"/><rect x="494" y="664" width="5" height="1"/><rect x="505" y="664" width="5" height="1"/><rect x="516" y="664" width="5" height="1"/><rect x="527" y="664" width="5" height="1"/><rect x="538" y="664" width="5" height="1"/><rect x="549" y="664" width="5" height="1"/><rect x="560" y="664" width="5" height="1"/><rect x="571" y="664" width="5" height="1"/><rect x="582" y="664" width="5" height="1"/><rect x="593" y="664" width="5" height="1"/><rect x="604" y="664" width="5" height="1"/><rect x="615" y="664" width="5" height="1"/><rect x="626" y="664" width="5" height="1"/><rect x="637" y="664" width="5" height="1"/><rect x="648" y="664" width="5" height="1"/><rect x="659" y="664" width="5" height="1"/><rect x="670" y="664" width="5" height="1"/><rect x="681" y="664" width="5" height="1"/><rect x="692" y="664" width="5" height="1"/><rect x="703" y="664" width="5" height="1"/><rect x="714" y="664" width="5" height="1"/><rect x="725" y="664" width="5" height="1"/><rect x="736" y="664" width="5" height="1"/><rect x="747" y="664" width="5" height="1"/><rect x="758" y="664" width="5" height="1"/><rect x="769" y="664" width="5" height="1"/><rect x="780" y="664" width="5" height="1"/><rect x="791" y="664" width="5" height="1"/><rect x="802" y="664" width="5" height="1"/><rect x="813" y="664" width="5" height="1"/><rect x="824" y="664" width="5" height="1"/><rect x="835" y="664" width="5" height="1"/><rect x="846" y="664" width="5" height="1"/><rect x="857" y="664" width="5" height="1"/><rect x="868" y="664" width="5" height="1"/><rect x="879" y="664" width="5" height="1"/><rect x="890" y="664" width="5" height="1"/><rect x="901" y="664" width="5" height="1"/><rect x="912" y="664" width="5" height="1"/><rect x="923" y="664" width="5" height="1"/><rect x="934" y="664" width="5" height="1"/><rect x="945" y="664" width="5" height="1"/><rect x="956" y="664" width="5" height="1"/><rect x="967" y="664" width="5" height="1"/><rect x="978" y="664" width="5" height="1"/><rect x="989" y="664" width="5" height="1"/><rect x="1000" y="664" width="5" height="1"/><rect x="1011" y="664" width="5" height="1"/><rect x="1022" y="664" width="5" height="1"/><rect x="1033" y="664" width="5" height="1"/><rect x="1044" y="664" width="5" height="1"/><rect x="1055" y="664" width="5" height="1"/><rect x="1066" y="664" width="5" height="1"/><rect x="1077" y="664" width="5" height="1"/><rect x="1088" y="664" width="5" height="1"/><rect x="1099" y="664" width="5" height="1"/><rect x="1110" y="664" width="5" height="1"/><rect x="1121" y="664" width="5" height="1"/><rect x="1132" y="664" width="5" height="1"/><rect x="1143" y="664" width="5" height="1"/><rect x="1154" y="664" width="5" height="1"/><rect x="1165" y="664" width="5" height="1"/><rect x="1176" y="664" width="5" height="1"/><rect x="1187" y="664" width="5" height="1"/><rect x="1198" y="664" width="5" height="1"/><rect x="1209" y="664" width="5" height="1"/><rect x="1220" y="664" width="5" height="1"/><rect x="1231" y="664" width="5" height="1"/><rect x="1242" y="664" width="5" height="1"/><rect x="1253" y="664" width="5" height="1"/><rect x="1264" y="664" width="5" height="1"/><rect x="1275" y="664" width="5" height="1"/></g>
<g fill="#787b86" fill-opacity="1"><rect x="10" y="715" width="5" height="1"/><rect x="21" y="715" width="5" height="1"/><rect x="32" y="715" width="5" height="1"/><rect x="43" y="715" width="5" height="1"/><rect x="54" y="715" width="5" height="1"/><rect x="65" y="715" width="5" height="1"/><rect x="76" y="715" width="5" height="1"/><rect x="87" y="715" width="5" height="1"/><rect x="98" y="715" width="5" height="1"/><rect x="109" y="715" width="5" height="1"/><rect x="120" y="715" width="5" height="1"/><rect x="131" y="715" width="5" height="1"/><rect x="142" y="715" width="5" height="1"/><rect x="153" y="715" width="5" height="1"/><rect x="164" y="715" width="5" height="1"/><rect x="175" y="715" width="5" height="1"/><rect x="186" y="715" width="5" height="1"/><rect x="197" y="715" width="5" height="1"/><rect x="208" y="715" width="5" height="1"/><rect x="219" y="715" width="5" height="1"/><rect x="230" y="715" width="5" height="1"/><rect x="241" y="715" width="5" height="1"/><rect x="252" y="715" width="5" height="1"/><rect x="263" y="715" width="5" height="1"/><rect x="274" y="715" width="5" height="1"/><rect x="285" y="715" width="5" height="1"/><rect x="296" y="715" width="5" height="1"/><rect x="307" y="715" width="5" height="1"/><rect x="318" y="715" width="5" height="1"/><rect x="329" y="715" width="5" height="1"/><rect x="340" y="715" width="5" height="1"/><rect x="351" y="715" width="5" height="1"/><rect x="362" y="715" width="5" height="1"/><rect x="373" y="715" width="5" height="1"/><rect x="384" y="715" width="5" height="1"/><rect x="395" y="715" width="5" height="1"/><rect x="406" y="715" width="5" height="1"/><rect x="417" y="715" width="5" height="1"/><rect x="428" y="715" width="5" height="1"/><rect x="439" y="715" width="5" height="1"/><rect x="450" y="715" width="5" height="1"/><rect x="461" y="715" width="5" height="1"/><rect x="472" y="715" width="5" height="1"/><rect x="483" y="715" width="5" height="1"/><rect x="494" y="715" width="5" height="1"/><rect x="505" y="715" width="5" height="1"/><rect x="516" y="715" width="5" height="1"/><rect x="527" y="715" width="5" height="1"/><rect x="538" y="715" width="5" height="1"/><rect x="549" y="715" width="5" height="1"/><rect x="560" y="715" width="5" height="1"/><rect x="571" y="715" width="5" height="1"/><rect x="582" y="715" width="5" height="1"/><rect x="593" y="715" width="5" height="1"/><rect x="604" y="715" width="5" height="1"/><rect x="615" y="715" width="5" height="1"/><rect x="626" y="715" width="5" height="1"/><rect x="637" y="715" width="5" height="1"/><rect x="648" y="715" width="5" height="1"/><rect x="659" y="715" width="5" height="1"/><rect x="670" y="715" width="5" height="1"/><rect x="681" y="715" width="5" height="1"/><rect x="692" y="715" width="5" height="1"/><rect x="703" y="715" width="5" height="1"/><rect x="714" y="715" width="5" height="1"/><rect x="725" y="715" width="5" height="1"/><rect x="736" y="715" width="5" height="1"/><rect x="747" y="715" width="5" height="1"/><rect x="758" y="715" width="5" height="1"/><rect x="769" y="715" width="5" height="1"/><rect x="780" y="715" width="5" height="1"/><rect x="791" y="715" width="5" height="1"/><rect x="802" y="715" width="5" height="1"/><rect x="813" y="715" width="5" height="1"/><rect x="824" y="715" width="5" height="1"/><rect x="835" y="715" width="5" height="1"/><rect x="846" y="715" width="5" height="1"/><rect x="857" y="715" width="5" height="1"/><rect x="868" y="715" width="5" height="1"/><rect x="879" y="715" width="5" height="1"/><rect x="890" y="715" width="5" height="1"/><rect x="901" y="715" width="5" height="1"/><rect x="912" y="715" width="5" height="1"/><rect x="923" y="715" width="5" height="1"/><rect x="934" y="715" width="5" height="1"/><rect x="945" y="715" width="5" height="1"/><rect x="956" y="715" width="5" height="1"/><rect x="967" y="715" width="5" height="1"/><rect x="978" y="715" width="5" height="1"/><rect x="989" y="715" width="5" height="1"/><rect x="1000" y="715" width="5" height="1"/><rect x="1011" y="715" width="5" height="1"/><rect x="1022" y="715" width="5" height="1"/><rect x="1033" y="715" width="5" height="1"/><rect x="1044" y="715" width="5" height="1"/><rect x="1055" y="715" width="5" height="1"/><rect x="1066" y="715" width="5" height="1"/><rect x="1077" y="715" width="5" height="1"/><rect x="1088" y="715" width="5" height="1"/><rect x="1099" y="715" width="5" height="1"/><rect x="1110" y="715" width="5" height="1"/><rect x="1121" y="715" width="5" height="1"/><rect x="1132" y="715" width="5" height="1"/><rect x="1143" y="715" width="5" height="1"/><rect x="1154" y="715" width="5" height="1"/><rect x="1165" y="715" width="5" height="1"/><rect x="1176" y="715" width="5" height="1"/><rect x="1187" y="715" width="5" height="1"/><rect x="1198" y="715" width="5" height="1"/><rect x="1209" y="715" width="5" height="1"/><rect x="1220" y="715" width="5" height="1"/><rect x="1231" y="715" width="5" height="1"/><rect x="1242" y="715" width="5" height="1"/><rect x="1253" y="715" width="5" height="1"/><rect x="1264" y="715" width="5" height="1"/><rect x="1275" y="715" width="5" height="1"/></g>
<polyline points="10.5,669.70 13.5,670.15 17.5,670.88 21.5,671.30 24.5,671.44 28.5,672.01 31.5,672.38 35.5,673.65 39.5,673.81 42.5,672.31 46.5,672.77 50.5,673.33 53.5,675.32 57.5,677.69 61.5,679.91 64.5,679.26 68.5,678.83 72.5,677.05 75.5,675.81 79.5,674.59 83.5,673.88 86.5,672.67 90.5,673.09 94.5,674.99 97.5,674.68 101.5,675.15 105.5,675.85 108.5,677.31 112.5,679.17 116.5,682.02 119.5,683.81 123.5,686.82 126.5,689.89 130.5,692.95 134.5,695.41 137.5,697.12 141.5,698.48 145.5,698.73 148.5,700.60 152.5,702.31 156.5,702.92 159.5,702.45 163.5,701.20 167.5,699.78 170.5,698.35 174.5,696.19 178.5,694.40 181.5,691.59 185.5,688.23 189.5,687.52 192.5,686.59 196.5,688.03 200.5,689.17 203.5,691.18 207.5,693.07 210.5,691.77 214.5,693.31 218.5,694.11 221.5,694.87 225.5,696.11 229.5,697.00 232.5,698.47 236.5,701.35 240.5,702.65 243.5,703.23 247.5,703.07 251.5,702.97 254.5,702.07 258.5,700.84 262.5,702.78 265.5,702.42 269.5,702.21 273.5,701.26 276.5,700.60 280.5,699.80 284.5,699.37 287.5,697.65 291.5,694.52 295.5,692.16 298.5,690.25 302.5,688.15 305.5,687.53 309.5,687.70 313.5,687.78 316.5,687.94 320.5,687.01 324.5,688.34 327.5,688.82 331.5,689.23 335.5,689.87 338.5,692.56 342.5,696.19 346.5,700.08 349.5,700.77 353.5,702.38 357.5,702.51 360.5,701.31 364.5,700.29 368.5,699.24 371.5,699.64 375.5,699.18 379.5,698.88 382.5,698.42 386.5,697.63 389.5,695.44 393.5,693.18 397.5,688.12 400.5,685.33 404.5,681.93 408.5,678.81 411.5,676.03 415.5,673.30 419.5,670.81 422.5,668.24 426.5,665.70 430.5,662.55 433.5,659.35 437.5,656.70 441.5,654.33 444.5,651.54 448.5,651.22 452.5,651.44 455.5,647.25 459.5,642.63 463.5,637.64 466.5,633.32 470.5,629.40 474.5,624.55 477.5,620.54 481.5,618.08 484.5,615.87 488.5,614.20 492.5,611.80 495.5,609.50 499.5,607.13 503.5,604.42 506.5,605.08 510.5,608.40 514.5,612.40 517.5,615.18 521.5,617.59 525.5,619.99 528.5,621.21 532.5,622.57 536.5,625.02 539.5,626.72 543.5,628.47 547.5,629.78 550.5,631.37 554.5,632.90 558.5,637.70 561.5,639.66 565.5,641.29 569.5,643.30 572.5,643.75 576.5,643.98 579.5,644.99 583.5,646.52 587.5,647.47 590.5,648.79 594.5,650.02 598.5,651.98 601.5,654.01 605.5,656.03 609.5,655.56 612.5,657.19 616.5,660.21 620.5,663.52 623.5,666.24 627.5,669.50 631.5,672.46 634.5,674.01 638.5,674.86 642.5,675.13 645.5,674.80 649.5,674.79 653.5,675.23 656.5,674.05 660.5,672.58 663.5,670.85 667.5,668.00 671.5,664.15 674.5,663.10 678.5,661.50 682.5,658.31 685.5,654.01 689.5,649.74 693.5,645.83 696.5,642.53 700.5,638.63 704.5,633.15 707.5,628.61 711.5,623.96 715.5,618.10 718.5,612.29 722.5,606.58 726.5,600.27 729.5,595.31 733.5,593.29 737.5,592.03 740.5,590.73 744.5,589.16 748.5,587.28 751.5,586.70 755.5,586.84 758.5,587.83 762.5,590.82 766.5,596.30 769.5,602.74 773.5,608.70 777.5,613.21 780.5,618.24 784.5,621.22 788.5,623.35 791.5,625.11 795.5,626.01 799.5,627.50 802.5,628.21 806.5,627.76 810.5,626.98 813.5,626.16 817.5,623.89 821.5,620.88 824.5,618.53 828.5,618.89 832.5,619.76 835.5,619.86 839.5,621.76 843.5,621.99 846.5,623.43 850.5,624.78 853.5,627.90 857.5,631.39 861.5,635.72 864.5,638.38 868.5,640.94 872.5,643.29 875.5,645.85 879.5,647.58 883.5,647.79 886.5,648.53 890.5,649.53 894.5,652.59 897.5,655.56 901.5,658.36 905.5,659.06 908.5,660.50 912.5,661.23 916.5,661.22 919.5,659.05 923.5,657.39 927.5,656.35 930.5,655.53 934.5,654.97 937.5,654.45 941.5,653.10 945.5,652.80 948.5,652.22 952.5,652.11 956.5,653.84 959.5,655.84 963.5,658.16 967.5,662.74 970.5,667.31 974.5,671.59 978.5,674.20 981.5,675.62 985.5,677.36 989.5,678.21 992.5,678.20 996.5,677.07 1000.5,676.21 1003.5,674.89 1007.5,670.76 1011.5,668.33 1014.5,665.31 1018.5,661.88 1022.5,662.42 1025.5,663.12 1029.5,662.63 1032.5,662.27 1036.5,661.96 1040.5,663.72 1043.5,666.63 1047.5,669.94 1051.5,672.68 1054.5,675.04 1058.5,678.45 1062.5,680.47 1065.5,683.32 1069.5,684.71 1073.5,683.03 1076.5,680.96 1080.5,679.80 1084.5,679.39 1087.5,679.27 1091.5,679.05 1095.5,679.00 1098.5,678.36 1102.5,677.86 1106.5,677.64 1109.5,679.11 1113.5,681.26 1117.5,682.08 1120.5,683.70 1124.5,685.03 1127.5,686.62 1131.5,688.28 1135.5,689.70 1138.5,691.04 1142.5,691.91 1146.5,693.08 1149.5,695.09 1153.5,696.88 1157.5,699.23 1160.5,700.11 1164.5,699.01 1168.5,699.36 1171.5,700.09 1175.5,701.91 1179.5,703.44 1182.5,705.96 1186.5,707.03 1190.5,707.28 1193.5,706.89 1197.5,705.78 1201.5,703.99" fill="none" stroke="#fdd835" stroke-width="1" stroke-linejoin="round" shape-rendering="auto"/>
<polyline points="10.5,642.21 13.5,678.50 17.5,683.63 21.5,691.46 24.5,687.56 28.5,685.54 31.5,687.28 35.5,699.34 39.5,686.20 42.5,659.56 46.5,674.22 50.5,657.68 53.5,673.14 57.5,681.31 61.5,673.35 64.5,669.42 68.5,677.49 72.5,666.64 75.5,670.08 79.5,668.47 83.5,677.46 86.5,682.39 90.5,692.07 94.5,686.17 97.5,669.86 101.5,664.28 105.5,682.94 108.5,701.68 112.5,699.44 116.5,709.31 119.5,702.48 123.5,708.89 126.5,712.96 130.5,711.39 134.5,711.85 137.5,706.30 141.5,711.20 145.5,689.67 148.5,696.03 152.5,688.21 156.5,691.48 159.5,695.12 163.5,681.96 167.5,689.32 170.5,682.60 174.5,678.63 178.5,687.90 181.5,672.01 185.5,664.87 189.5,696.29 192.5,698.22 196.5,709.76 200.5,712.01 203.5,716.41 207.5,717.88 210.5,676.94 214.5,703.50 218.5,700.59 221.5,693.22 225.5,696.01 229.5,700.36 232.5,692.52 236.5,705.26 240.5,714.40 243.5,706.39 247.5,707.55 251.5,710.57 254.5,703.86 258.5,700.56 262.5,704.13 265.5,698.46 269.5,697.65 273.5,679.89 276.5,686.86 280.5,689.08 284.5,686.50 287.5,681.25 291.5,670.47 295.5,673.42 298.5,680.74 302.5,681.25 305.5,695.23 309.5,702.92 313.5,705.21 316.5,700.68 320.5,684.61 324.5,698.50 327.5,693.66 331.5,694.77 335.5,695.45 338.5,718.98 342.5,721.22 346.5,727.82 349.5,690.43 353.5,703.84 357.5,697.11 360.5,686.07 364.5,690.93 368.5,685.99 371.5,690.17 375.5,692.00 379.5,689.59 382.5,688.32 386.5,684.36 389.5,688.27 393.5,689.60 397.5,657.04 400.5,651.37 404.5,656.26 408.5,653.37 411.5,647.13 415.5,652.72 419.5,651.15 422.5,654.18 426.5,656.46 430.5,645.39 433.5,643.55 437.5,647.24 441.5,655.15 444.5,650.54 448.5,652.50 452.5,654.56 455.5,597.59 459.5,588.57 463.5,577.34 466.5,592.25 470.5,596.21 474.5,586.29 477.5,600.37 481.5,610.89 484.5,612.70 488.5,623.81 492.5,621.53 495.5,618.31 499.5,619.33 503.5,616.62 506.5,606.92 510.5,635.04 514.5,633.33 517.5,631.17 521.5,629.92 525.5,619.89 528.5,617.47 532.5,629.93 536.5,646.94 539.5,647.61 543.5,646.10 547.5,636.59 550.5,641.58 554.5,638.10 558.5,674.12 561.5,662.53 565.5,656.04 569.5,659.37 572.5,636.26 576.5,623.10 579.5,631.55 583.5,651.38 587.5,660.20 590.5,666.07 594.5,663.35 598.5,664.10 601.5,669.93 605.5,666.47 609.5,667.55 612.5,685.26 616.5,698.34 620.5,705.67 623.5,674.43 627.5,668.74 631.5,672.90 634.5,673.10 638.5,672.12 642.5,669.81 645.5,658.83 649.5,663.90 653.5,676.08 656.5,649.93 660.5,646.99 663.5,661.11 667.5,658.46 671.5,651.76 674.5,659.65 678.5,646.44 682.5,628.19 685.5,612.87 689.5,612.29 693.5,615.19 696.5,612.59 700.5,609.35 704.5,599.27 707.5,586.39 711.5,581.95 715.5,578.98 718.5,577.16 722.5,571.75 726.5,571.33 729.5,577.01 733.5,599.90 737.5,595.33 740.5,594.08 744.5,593.17 748.5,586.24 751.5,601.20 755.5,601.20 758.5,600.37 762.5,623.79 766.5,655.67 769.5,667.33 773.5,655.13 777.5,634.49 780.5,647.47 784.5,641.63 788.5,625.12 791.5,618.70 795.5,605.80 799.5,607.04 802.5,611.21 806.5,594.92 810.5,589.39 813.5,612.38 817.5,623.89 821.5,625.18 824.5,622.18 828.5,639.57 832.5,659.58 835.5,643.02 839.5,651.72 843.5,622.01 846.5,625.99 850.5,625.87 853.5,654.92 857.5,643.70 861.5,650.07 864.5,649.57 868.5,659.80 872.5,658.06 875.5,658.06 879.5,663.71 883.5,662.50 886.5,653.38 890.5,665.81 894.5,664.77 897.5,667.55 901.5,665.07 905.5,664.79 908.5,663.84 912.5,660.32 916.5,649.39 919.5,629.43 923.5,634.85 927.5,643.41 930.5,652.28 934.5,654.69 937.5,646.05 941.5,646.98 945.5,660.48 948.5,659.42 952.5,663.64 956.5,688.93 959.5,691.89 963.5,692.75 967.5,713.60 970.5,693.33 974.5,694.74 978.5,680.04 981.5,672.08 985.5,679.07 989.5,658.02 992.5,646.87 996.5,644.60 1000.5,647.40 1003.5,645.20 1007.5,631.06 1011.5,657.82 1014.5,650.56 1018.5,665.58 1022.5,700.79 1025.5,704.60 1029.5,673.10 1032.5,667.09 1036.5,674.72 1040.5,682.71 1043.5,687.64 1047.5,690.84 1051.5,685.75 1054.5,678.31 1058.5,678.76 1062.5,686.11 1065.5,690.55 1069.5,685.04 1073.5,677.18 1076.5,675.65 1080.5,656.79 1084.5,661.48 1087.5,673.01 1091.5,679.53 1095.5,686.97 1098.5,681.86 1102.5,678.74 1106.5,675.29 1109.5,699.30 1113.5,716.19 1117.5,702.14 1120.5,707.69 1124.5,695.72 1127.5,697.94 1131.5,680.13 1135.5,681.34 1138.5,691.75 1142.5,691.75 1146.5,703.31 1149.5,710.00 1153.5,703.78 1157.5,708.17 1160.5,711.69 1164.5,700.75 1168.5,707.10 1171.5,717.89 1175.5,721.20 1179.5,719.33 1182.5,715.43 1186.5,696.32 1190.5,695.21 1193.5,686.29 1197.5,687.74 1201.5,684.96" fill="none" stroke="#7e57c2" stroke-width="2.8" stroke-linejoin="round" stroke-linecap="round" shape-rendering="auto"/>
</g>
<g font-size="12" fill="#131722">
<text x="18.3" y="46" textLength="192" lengthAdjust="spacingAndGlyphs">Ethereum / TetherUS · 1D · Binance</text>
<text x="217.8" y="46" textLength="7.2" lengthAdjust="spacingAndGlyphs">O</text><text x="225.6" y="46" fill="#26a69a" textLength="46.2" lengthAdjust="spacingAndGlyphs">3,015.23</text>
<text x="280.3" y="46" textLength="6.8" lengthAdjust="spacingAndGlyphs">H</text><text x="288.2" y="46" fill="#26a69a" textLength="45.7" lengthAdjust="spacingAndGlyphs">3,099.00</text>
<text x="341.4" y="46" textLength="5.8" lengthAdjust="spacingAndGlyphs">L</text><text x="348.2" y="46" fill="#26a69a" textLength="45.7" lengthAdjust="spacingAndGlyphs">2,994.36</text>
<text x="401.2" y="46" textLength="7.0" lengthAdjust="spacingAndGlyphs">C</text><text x="409.3" y="46" fill="#26a69a" textLength="45.4" lengthAdjust="spacingAndGlyphs">3,031.52</text>
<text x="462.9" y="46" fill="#26a69a" textLength="83.6" lengthAdjust="spacingAndGlyphs">+16.29 (+0.54%)</text>
<text x="18.3" y="63" textLength="81.7" lengthAdjust="spacingAndGlyphs">EMA (20, close)</text>
<text x="107.7" y="63" fill="#2962ff" textLength="46.1" lengthAdjust="spacingAndGlyphs">3,109.10</text>
<text x="18.3" y="79.7" textLength="81.7" lengthAdjust="spacingAndGlyphs">SMA (50, close)</text>
<text x="107.3" y="79.7" fill="#f23645" textLength="45.9" lengthAdjust="spacingAndGlyphs">3,541.47</text>
<text x="18.3" y="579" textLength="75.5" lengthAdjust="spacingAndGlyphs">RSI (14, close)</text>
<text x="101.8" y="579" fill="#7e57c2" textLength="28.9" lengthAdjust="spacingAndGlyphs">41.61</text>
<text x="138.7" y="579" fill="#f7c52b" textLength="29.2" lengthAdjust="spacingAndGlyphs">34.34</text>
</g>
<rect x="1280.5" y="31.5" width="58" height="25.5" rx="4" fill="#fff" stroke="#eeeeee" shape-rendering="auto"/>
<text x="1290.3" y="48.9" font-size="12" fill="#131722" textLength="27.6" lengthAdjust="spacingAndGlyphs">USDT</text>
<g font-size="12" fill="#131722"><text x="1285.9" y="552.8">1,250.00</text><text x="1285.9" y="519.8">1,500.00</text><text x="1285.9" y="486.8">1,750.00</text><text x="1285.9" y="452.8">2,000.00</text><text x="1285.9" y="419.8">2,250.00</text><text x="1285.9" y="385.8">2,500.00</text><text x="1285.9" y="352.8">2,750.00</text><text x="1285.9" y="318.8">3,000.00</text><text x="1285.9" y="285.8">3,250.00</text><text x="1285.9" y="251.8">3,500.00</text><text x="1285.9" y="218.8">3,750.00</text><text x="1285.9" y="185.8">4,000.00</text><text x="1285.9" y="151.8">4,250.00</text><text x="1285.9" y="118.8">4,500.00</text><text x="1285.9" y="84.8">4,750.00</text></g>
<g font-size="12" fill="#131722"><text x="1285.9" y="591.9">80.00</text><text x="1285.9" y="642.8">60.00</text></g>
<path d="M1230.0,235.0 H1277.0 V252.0 H1230.0 Q1227.0,252.0 1227.0,249.0 V238.0 Q1227.0,235.0 1230.0,235.0 Z" fill="#f23645" shape-rendering="auto"/>
<path d="M1278.0,235.0 H1334.7 Q1337.7,235.0 1337.7,238.0 V249.0 Q1337.7,252.0 1334.7,252.0 H1278.0 Z" fill="#f23645" shape-rendering="auto"/>
<text x="1231.9" y="247.5" font-size="12" fill="#fff" textLength="41.2" lengthAdjust="spacingAndGlyphs">SMA:MA</text>
<text x="1286" y="247.5" font-size="12" fill="#fff">3,541.47</text>
<text x="1285.9" y="285.6" font-size="12" fill="#131722">3,250.00</text>
<path d="M1278.0,261.0 H1334.7 Q1337.7,261.0 1337.7,264.0 V274.6 Q1337.7,277.6 1334.7,277.6 H1278.0 Z" fill="#0000ff" shape-rendering="auto"/>
<text x="1286" y="273.6" font-size="12" fill="#fff">3,350.00</text>
<text x="1285.9" y="352.2" font-size="12" fill="#131722">2,750.00</text>
<path d="M1249.0,286.0 H1277.0 V303.0 H1249.0 Q1246.0,303.0 1246.0,300.0 V289.0 Q1246.0,286.0 1249.0,286.0 Z" fill="#2962ff" shape-rendering="auto"/>
<path d="M1278.0,286.0 H1334.7 Q1337.7,286.0 1337.7,289.0 V300.0 Q1337.7,303.0 1334.7,303.0 H1278.0 Z" fill="#2962ff" shape-rendering="auto"/>
<text x="1250.5" y="298.7" font-size="12" fill="#fff" textLength="22.6" lengthAdjust="spacingAndGlyphs">EMA</text>
<text x="1286" y="298.7" font-size="12" fill="#fff">3,109.10</text>
<path d="M1221.8,303.0 H1277.0 V320.0 H1221.8 Q1218.8,320.0 1218.8,317.0 V306.0 Q1218.8,303.0 1221.8,303.0 Z" fill="#26a69a" shape-rendering="auto"/>
<path d="M1278.0,303.0 H1334.7 Q1337.7,303.0 1337.7,306.0 V344.6 Q1337.7,347.6 1334.7,347.6 H1278.0 Z" fill="#26a69a" shape-rendering="auto"/>
<text x="1224" y="315.8" font-size="12" fill="#fff" textLength="49" lengthAdjust="spacingAndGlyphs">ETHUSDT</text>
<text x="1286" y="315.1" font-size="12" fill="#fff">3,031.52</text>
<text x="1286" y="328.9" font-size="12" fill="#fff" textLength="42.9" lengthAdjust="spacingAndGlyphs">−16.62%</text>
<text x="1286" y="342.6" font-size="12" fill="#d5efeb">07:28:05</text>
<path d="M1255.1,677.0 H1277.0 V693.8 H1255.1 Q1252.1,693.8 1252.1,690.8 V680.0 Q1252.1,677.0 1255.1,677.0 Z" fill="#7e57c2" shape-rendering="auto"/>
<path d="M1278.3,677.0 H1317.7 Q1320.7,677.0 1320.7,680.0 V690.8 Q1320.7,693.8 1317.7,693.8 H1278.3 Z" fill="#7e57c2" shape-rendering="auto"/>
<text x="1257" y="690" font-size="12" fill="#fff" textLength="15.8" lengthAdjust="spacingAndGlyphs">RSI</text>
<text x="1285.8" y="690" font-size="12" fill="#fff">41.61</text>
<path d="M1201.2,696.2 H1277.0 V712.9 H1201.2 Q1198.2,712.9 1198.2,709.9 V699.2 Q1198.2,696.2 1201.2,696.2 Z" fill="#fdd835" shape-rendering="auto"/>
<path d="M1278.3,696.2 H1317.7 Q1320.7,696.2 1320.7,699.2 V709.9 Q1320.7,712.9 1317.7,712.9 H1278.3 Z" fill="#fdd835" shape-rendering="auto"/>
<text x="1202.5" y="708.6" font-size="12" fill="#131722" textLength="70.3" lengthAdjust="spacingAndGlyphs">RSI-based MA</text>
<text x="1286.3" y="708.6" font-size="12" fill="#131722">34.34</text>
<g font-size="12" font-weight="bold" fill="#131722"><text x="94.8" y="755.8" textLength="19.7" lengthAdjust="spacingAndGlyphs">Feb</text><text x="197.1" y="755.8" textLength="20.1" lengthAdjust="spacingAndGlyphs">Mar</text><text x="310.7" y="755.8" textLength="18.8" lengthAdjust="spacingAndGlyphs">Apr</text><text x="419.4" y="755.8" textLength="21.0" lengthAdjust="spacingAndGlyphs">May</text><text x="532.6" y="755.8" textLength="20.8" lengthAdjust="spacingAndGlyphs">Jun</text><text x="644.1" y="755.8" textLength="16.9" lengthAdjust="spacingAndGlyphs">Jul</text><text x="755.4" y="755.8" textLength="21.1" lengthAdjust="spacingAndGlyphs">Aug</text><text x="869.2" y="755.8" textLength="19.7" lengthAdjust="spacingAndGlyphs">Sep</text><text x="979.3" y="755.8" textLength="18.6" lengthAdjust="spacingAndGlyphs">Oct</text><text x="1091.7" y="755.8" textLength="21.3" lengthAdjust="spacingAndGlyphs">Nov</text><text x="1201.3" y="755.8" textLength="20.3" lengthAdjust="spacingAndGlyphs">Dec</text></g>
<g shape-rendering="auto" fill="none" stroke="#9c27b0" stroke-width="1.6" stroke-linecap="round" stroke-linejoin="round">
<path d="M1204.50,537.07 A9.70,9.70 0 1 0 1210.78,543.46"/>
<path d="M1203.9,541.6 L1197.8,546.6 L1205.0,546.6 L1198.6,551.6"/>
</g>
<circle cx="1208.4" cy="539.6" r="2.5" fill="#f23645" shape-rendering="auto"/>
<g fill="#131722" shape-rendering="auto">
<path d="M12.1,787.9 H24.3 V802.8 H18.1 V793.2 H12.1 Z"/>
<circle cx="29.2" cy="790.6" r="2.7"/>
<path d="M33.6,787.9 H41.9 L36.4,802.8 H28.4 Z"/>
<text x="49" y="802.8" font-size="21" font-weight="bold" textLength="121" lengthAdjust="spacingAndGlyphs">TradingView</text>
</g>
</svg></body></html>
